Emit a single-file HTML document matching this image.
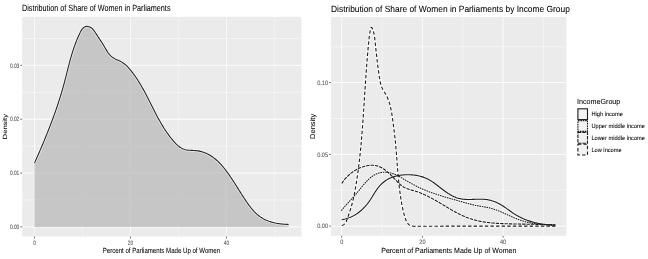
<!DOCTYPE html><html><head><meta charset="utf-8"><title>plot</title><style>html,body{margin:0;padding:0;background:#fff;overflow:hidden}svg{display:block}</style></head><body>
<svg width="648" height="259" viewBox="0 0 648 259" font-family="Liberation Sans, sans-serif" text-rendering="geometricPrecision">
<rect width="648" height="259" fill="#fff"/>
<defs><filter id="bl" filterUnits="userSpaceOnUse" x="0" y="0" width="648" height="259"><feGaussianBlur stdDeviation="0.55 0.35"/></filter><filter id="br" filterUnits="userSpaceOnUse" x="0" y="0" width="648" height="259"><feGaussianBlur stdDeviation="0.4 0.4"/></filter></defs>
<g filter="url(#bl)">
<rect x="22.2" y="16.8" width="279.30" height="219.70" fill="#EBEBEB"/>
<path d="M82.50,16.8V236.5M178.50,16.8V236.5M274.50,16.8V236.5" stroke="#fff" stroke-opacity="0.6" stroke-width="0.5" fill="none"/>
<path d="M22.2,199.97H301.5M22.2,146.12H301.5M22.2,92.28H301.5M22.2,38.42H301.5" stroke="#fff" stroke-opacity="0.9" stroke-width="0.5" fill="none"/>
<path d="M34.50,16.8V236.5M130.50,16.8V236.5M226.50,16.8V236.5" stroke="#fff" stroke-opacity="0.6" stroke-width="1.0" fill="none"/>
<path d="M22.2,226.90H301.5M22.2,173.05H301.5M22.2,119.20H301.5M22.2,65.35H301.5" stroke="#fff" stroke-opacity="0.9" stroke-width="1.0" fill="none"/>
<path d="M34.48,226.90 L34.48,163.14 L34.93,162.13 L35.38,161.11 L35.83,160.09 L36.28,159.07 L36.73,158.05 L37.18,157.03 L37.62,156.01 L38.07,154.99 L38.51,153.97 L38.95,152.95 L39.40,151.92 L39.84,150.90 L40.28,149.87 L40.72,148.85 L41.15,147.82 L41.59,146.80 L42.02,145.77 L42.46,144.74 L42.89,143.71 L43.32,142.68 L43.75,141.65 L44.18,140.62 L44.61,139.59 L45.03,138.55 L45.46,137.52 L45.88,136.49 L46.30,135.45 L46.72,134.42 L47.13,133.38 L47.55,132.34 L47.96,131.30 L48.38,130.27 L48.79,129.23 L49.19,128.19 L49.60,127.14 L50.00,126.10 L50.40,125.06 L50.80,124.02 L51.20,122.97 L51.60,121.93 L51.99,120.88 L52.38,119.84 L52.77,118.79 L53.16,117.74 L53.54,116.69 L53.92,115.64 L54.30,114.59 L54.68,113.54 L55.05,112.49 L55.42,111.43 L55.79,110.38 L56.16,109.33 L56.52,108.27 L56.88,107.21 L57.24,106.16 L57.60,105.10 L57.95,104.04 L58.30,102.98 L58.64,101.92 L58.99,100.86 L59.33,99.79 L59.67,98.73 L60.00,97.67 L60.33,96.60 L60.66,95.53 L60.98,94.47 L61.31,93.40 L61.62,92.33 L61.94,91.26 L62.25,90.19 L62.56,89.12 L62.86,88.05 L63.17,86.97 L63.46,85.90 L63.76,84.82 L64.05,83.75 L64.34,82.67 L64.62,81.59 L64.90,80.51 L65.18,79.43 L65.46,78.35 L65.74,77.27 L66.01,76.19 L66.28,75.11 L66.56,74.03 L66.83,72.95 L67.10,71.87 L67.38,70.79 L67.65,69.71 L67.93,68.63 L68.20,67.55 L68.48,66.47 L68.76,65.39 L69.04,64.31 L69.32,63.23 L69.61,62.16 L69.90,61.08 L70.20,60.00 L70.49,58.93 L70.80,57.85 L71.10,56.78 L71.41,55.71 L71.73,54.64 L72.05,53.57 L72.38,52.50 L72.71,51.44 L73.05,50.38 L73.40,49.31 L73.75,48.25 L74.12,47.19 L74.48,46.14 L74.86,45.08 L75.25,44.03 L75.64,42.98 L76.04,41.93 L76.46,40.89 L76.88,39.84 L77.31,38.80 L77.75,37.76 L78.20,36.73 L78.67,35.70 L79.14,34.67 L79.63,33.64 L80.13,32.62 L80.64,31.60 L81.18,30.60 L81.76,29.66 L82.40,28.79 L83.11,28.02 L83.92,27.37 L84.84,26.87 L85.85,26.54 L86.93,26.40 L88.03,26.47 L89.11,26.72 L90.16,27.15 L91.15,27.73 L92.06,28.44 L92.88,29.24 L93.62,30.12 L94.29,31.05 L94.94,32.01 L95.56,32.97 L96.19,33.92 L96.81,34.86 L97.43,35.80 L98.04,36.73 L98.65,37.66 L99.26,38.58 L99.86,39.50 L100.46,40.42 L101.06,41.34 L101.65,42.27 L102.24,43.20 L102.83,44.13 L103.42,45.07 L104.00,46.02 L104.58,46.98 L105.16,47.94 L105.74,48.92 L106.32,49.90 L106.91,50.88 L107.51,51.85 L108.14,52.79 L108.80,53.70 L109.49,54.58 L110.23,55.40 L111.01,56.16 L111.86,56.86 L112.75,57.50 L113.69,58.08 L114.66,58.63 L115.65,59.14 L116.67,59.63 L117.70,60.11 L118.73,60.59 L119.75,61.08 L120.76,61.58 L121.75,62.12 L122.70,62.69 L123.62,63.31 L124.51,63.98 L125.36,64.68 L126.18,65.42 L126.98,66.19 L127.75,66.98 L128.51,67.80 L129.25,68.63 L129.97,69.48 L130.68,70.33 L131.39,71.20 L132.08,72.07 L132.76,72.95 L133.43,73.84 L134.09,74.74 L134.74,75.64 L135.38,76.55 L136.02,77.47 L136.64,78.39 L137.25,79.32 L137.86,80.26 L138.46,81.20 L139.05,82.14 L139.64,83.09 L140.21,84.05 L140.78,85.01 L141.35,85.97 L141.90,86.94 L142.46,87.91 L143.00,88.88 L143.54,89.86 L144.08,90.84 L144.61,91.82 L145.14,92.81 L145.66,93.80 L146.18,94.79 L146.69,95.78 L147.21,96.77 L147.72,97.76 L148.23,98.76 L148.73,99.76 L149.24,100.75 L149.74,101.75 L150.25,102.75 L150.75,103.75 L151.25,104.75 L151.75,105.75 L152.25,106.75 L152.76,107.75 L153.26,108.75 L153.77,109.74 L154.27,110.74 L154.78,111.73 L155.29,112.72 L155.81,113.72 L156.32,114.70 L156.84,115.69 L157.37,116.68 L157.89,117.66 L158.42,118.64 L158.96,119.61 L159.50,120.59 L160.05,121.56 L160.60,122.53 L161.16,123.49 L161.72,124.45 L162.29,125.40 L162.87,126.35 L163.46,127.30 L164.05,128.24 L164.65,129.18 L165.26,130.11 L165.87,131.03 L166.50,131.95 L167.13,132.87 L167.78,133.78 L168.43,134.68 L169.10,135.58 L169.77,136.47 L170.46,137.35 L171.15,138.23 L171.86,139.09 L172.58,139.96 L173.31,140.81 L174.06,141.66 L174.81,142.49 L175.59,143.31 L176.38,144.11 L177.19,144.88 L178.01,145.61 L178.87,146.31 L179.74,146.97 L180.64,147.58 L181.56,148.14 L182.52,148.64 L183.50,149.07 L184.51,149.44 L185.56,149.73 L186.64,149.95 L187.75,150.12 L188.88,150.23 L190.02,150.31 L191.18,150.37 L192.34,150.41 L193.51,150.46 L194.67,150.52 L195.83,150.61 L196.97,150.73 L198.10,150.90 L199.22,151.10 L200.32,151.34 L201.41,151.62 L202.48,151.93 L203.54,152.27 L204.58,152.65 L205.61,153.07 L206.62,153.51 L207.62,153.98 L208.60,154.49 L209.56,155.02 L210.51,155.58 L211.44,156.17 L212.36,156.78 L213.26,157.42 L214.14,158.08 L215.00,158.77 L215.85,159.48 L216.69,160.21 L217.51,160.95 L218.31,161.72 L219.10,162.50 L219.88,163.30 L220.64,164.12 L221.40,164.95 L222.14,165.79 L222.87,166.64 L223.58,167.51 L224.29,168.38 L224.99,169.27 L225.67,170.16 L226.35,171.05 L227.02,171.96 L227.68,172.87 L228.33,173.78 L228.98,174.69 L229.61,175.61 L230.24,176.52 L230.87,177.44 L231.49,178.37 L232.10,179.29 L232.71,180.21 L233.32,181.14 L233.92,182.07 L234.52,183.00 L235.11,183.93 L235.70,184.86 L236.29,185.79 L236.88,186.73 L237.47,187.66 L238.06,188.60 L238.65,189.54 L239.24,190.48 L239.83,191.41 L240.42,192.36 L241.02,193.30 L241.61,194.24 L242.21,195.18 L242.82,196.12 L243.42,197.07 L244.04,198.01 L244.65,198.96 L245.27,199.90 L245.90,200.84 L246.54,201.78 L247.18,202.72 L247.83,203.64 L248.49,204.56 L249.16,205.48 L249.84,206.38 L250.54,207.27 L251.24,208.15 L251.96,209.01 L252.69,209.86 L253.43,210.69 L254.19,211.51 L254.96,212.30 L255.75,213.08 L256.56,213.83 L257.38,214.56 L258.22,215.27 L259.08,215.95 L259.96,216.60 L260.86,217.23 L261.79,217.82 L262.73,218.39 L263.69,218.92 L264.67,219.43 L265.68,219.90 L266.69,220.35 L267.73,220.77 L268.77,221.16 L269.83,221.52 L270.91,221.87 L271.99,222.18 L273.08,222.47 L274.18,222.74 L275.28,222.99 L276.39,223.21 L277.51,223.42 L278.63,223.60 L279.75,223.76 L280.86,223.91 L281.98,224.03 L283.10,224.14 L284.21,224.23 L285.31,224.31 L286.41,224.37 L287.51,224.42 L288.59,224.45 L288.59,226.90Z" fill="#b6b6b6" fill-opacity="0.7" stroke="none"/>
<path d="M34.48,163.14 L34.93,162.13 L35.38,161.11 L35.83,160.09 L36.28,159.07 L36.73,158.05 L37.18,157.03 L37.62,156.01 L38.07,154.99 L38.51,153.97 L38.95,152.95 L39.40,151.92 L39.84,150.90 L40.28,149.87 L40.72,148.85 L41.15,147.82 L41.59,146.80 L42.02,145.77 L42.46,144.74 L42.89,143.71 L43.32,142.68 L43.75,141.65 L44.18,140.62 L44.61,139.59 L45.03,138.55 L45.46,137.52 L45.88,136.49 L46.30,135.45 L46.72,134.42 L47.13,133.38 L47.55,132.34 L47.96,131.30 L48.38,130.27 L48.79,129.23 L49.19,128.19 L49.60,127.14 L50.00,126.10 L50.40,125.06 L50.80,124.02 L51.20,122.97 L51.60,121.93 L51.99,120.88 L52.38,119.84 L52.77,118.79 L53.16,117.74 L53.54,116.69 L53.92,115.64 L54.30,114.59 L54.68,113.54 L55.05,112.49 L55.42,111.43 L55.79,110.38 L56.16,109.33 L56.52,108.27 L56.88,107.21 L57.24,106.16 L57.60,105.10 L57.95,104.04 L58.30,102.98 L58.64,101.92 L58.99,100.86 L59.33,99.79 L59.67,98.73 L60.00,97.67 L60.33,96.60 L60.66,95.53 L60.98,94.47 L61.31,93.40 L61.62,92.33 L61.94,91.26 L62.25,90.19 L62.56,89.12 L62.86,88.05 L63.17,86.97 L63.46,85.90 L63.76,84.82 L64.05,83.75 L64.34,82.67 L64.62,81.59 L64.90,80.51 L65.18,79.43 L65.46,78.35 L65.74,77.27 L66.01,76.19 L66.28,75.11 L66.56,74.03 L66.83,72.95 L67.10,71.87 L67.38,70.79 L67.65,69.71 L67.93,68.63 L68.20,67.55 L68.48,66.47 L68.76,65.39 L69.04,64.31 L69.32,63.23 L69.61,62.16 L69.90,61.08 L70.20,60.00 L70.49,58.93 L70.80,57.85 L71.10,56.78 L71.41,55.71 L71.73,54.64 L72.05,53.57 L72.38,52.50 L72.71,51.44 L73.05,50.38 L73.40,49.31 L73.75,48.25 L74.12,47.19 L74.48,46.14 L74.86,45.08 L75.25,44.03 L75.64,42.98 L76.04,41.93 L76.46,40.89 L76.88,39.84 L77.31,38.80 L77.75,37.76 L78.20,36.73 L78.67,35.70 L79.14,34.67 L79.63,33.64 L80.13,32.62 L80.64,31.60 L81.18,30.60 L81.76,29.66 L82.40,28.79 L83.11,28.02 L83.92,27.37 L84.84,26.87 L85.85,26.54 L86.93,26.40 L88.03,26.47 L89.11,26.72 L90.16,27.15 L91.15,27.73 L92.06,28.44 L92.88,29.24 L93.62,30.12 L94.29,31.05 L94.94,32.01 L95.56,32.97 L96.19,33.92 L96.81,34.86 L97.43,35.80 L98.04,36.73 L98.65,37.66 L99.26,38.58 L99.86,39.50 L100.46,40.42 L101.06,41.34 L101.65,42.27 L102.24,43.20 L102.83,44.13 L103.42,45.07 L104.00,46.02 L104.58,46.98 L105.16,47.94 L105.74,48.92 L106.32,49.90 L106.91,50.88 L107.51,51.85 L108.14,52.79 L108.80,53.70 L109.49,54.58 L110.23,55.40 L111.01,56.16 L111.86,56.86 L112.75,57.50 L113.69,58.08 L114.66,58.63 L115.65,59.14 L116.67,59.63 L117.70,60.11 L118.73,60.59 L119.75,61.08 L120.76,61.58 L121.75,62.12 L122.70,62.69 L123.62,63.31 L124.51,63.98 L125.36,64.68 L126.18,65.42 L126.98,66.19 L127.75,66.98 L128.51,67.80 L129.25,68.63 L129.97,69.48 L130.68,70.33 L131.39,71.20 L132.08,72.07 L132.76,72.95 L133.43,73.84 L134.09,74.74 L134.74,75.64 L135.38,76.55 L136.02,77.47 L136.64,78.39 L137.25,79.32 L137.86,80.26 L138.46,81.20 L139.05,82.14 L139.64,83.09 L140.21,84.05 L140.78,85.01 L141.35,85.97 L141.90,86.94 L142.46,87.91 L143.00,88.88 L143.54,89.86 L144.08,90.84 L144.61,91.82 L145.14,92.81 L145.66,93.80 L146.18,94.79 L146.69,95.78 L147.21,96.77 L147.72,97.76 L148.23,98.76 L148.73,99.76 L149.24,100.75 L149.74,101.75 L150.25,102.75 L150.75,103.75 L151.25,104.75 L151.75,105.75 L152.25,106.75 L152.76,107.75 L153.26,108.75 L153.77,109.74 L154.27,110.74 L154.78,111.73 L155.29,112.72 L155.81,113.72 L156.32,114.70 L156.84,115.69 L157.37,116.68 L157.89,117.66 L158.42,118.64 L158.96,119.61 L159.50,120.59 L160.05,121.56 L160.60,122.53 L161.16,123.49 L161.72,124.45 L162.29,125.40 L162.87,126.35 L163.46,127.30 L164.05,128.24 L164.65,129.18 L165.26,130.11 L165.87,131.03 L166.50,131.95 L167.13,132.87 L167.78,133.78 L168.43,134.68 L169.10,135.58 L169.77,136.47 L170.46,137.35 L171.15,138.23 L171.86,139.09 L172.58,139.96 L173.31,140.81 L174.06,141.66 L174.81,142.49 L175.59,143.31 L176.38,144.11 L177.19,144.88 L178.01,145.61 L178.87,146.31 L179.74,146.97 L180.64,147.58 L181.56,148.14 L182.52,148.64 L183.50,149.07 L184.51,149.44 L185.56,149.73 L186.64,149.95 L187.75,150.12 L188.88,150.23 L190.02,150.31 L191.18,150.37 L192.34,150.41 L193.51,150.46 L194.67,150.52 L195.83,150.61 L196.97,150.73 L198.10,150.90 L199.22,151.10 L200.32,151.34 L201.41,151.62 L202.48,151.93 L203.54,152.27 L204.58,152.65 L205.61,153.07 L206.62,153.51 L207.62,153.98 L208.60,154.49 L209.56,155.02 L210.51,155.58 L211.44,156.17 L212.36,156.78 L213.26,157.42 L214.14,158.08 L215.00,158.77 L215.85,159.48 L216.69,160.21 L217.51,160.95 L218.31,161.72 L219.10,162.50 L219.88,163.30 L220.64,164.12 L221.40,164.95 L222.14,165.79 L222.87,166.64 L223.58,167.51 L224.29,168.38 L224.99,169.27 L225.67,170.16 L226.35,171.05 L227.02,171.96 L227.68,172.87 L228.33,173.78 L228.98,174.69 L229.61,175.61 L230.24,176.52 L230.87,177.44 L231.49,178.37 L232.10,179.29 L232.71,180.21 L233.32,181.14 L233.92,182.07 L234.52,183.00 L235.11,183.93 L235.70,184.86 L236.29,185.79 L236.88,186.73 L237.47,187.66 L238.06,188.60 L238.65,189.54 L239.24,190.48 L239.83,191.41 L240.42,192.36 L241.02,193.30 L241.61,194.24 L242.21,195.18 L242.82,196.12 L243.42,197.07 L244.04,198.01 L244.65,198.96 L245.27,199.90 L245.90,200.84 L246.54,201.78 L247.18,202.72 L247.83,203.64 L248.49,204.56 L249.16,205.48 L249.84,206.38 L250.54,207.27 L251.24,208.15 L251.96,209.01 L252.69,209.86 L253.43,210.69 L254.19,211.51 L254.96,212.30 L255.75,213.08 L256.56,213.83 L257.38,214.56 L258.22,215.27 L259.08,215.95 L259.96,216.60 L260.86,217.23 L261.79,217.82 L262.73,218.39 L263.69,218.92 L264.67,219.43 L265.68,219.90 L266.69,220.35 L267.73,220.77 L268.77,221.16 L269.83,221.52 L270.91,221.87 L271.99,222.18 L273.08,222.47 L274.18,222.74 L275.28,222.99 L276.39,223.21 L277.51,223.42 L278.63,223.60 L279.75,223.76 L280.86,223.91 L281.98,224.03 L283.10,224.14 L284.21,224.23 L285.31,224.31 L286.41,224.37 L287.51,224.42 L288.59,224.45" fill="none" stroke="#fff" stroke-opacity="0.7" stroke-width="2.6" stroke-linejoin="round"/>
<path d="M34.48,163.14 L34.93,162.13 L35.38,161.11 L35.83,160.09 L36.28,159.07 L36.73,158.05 L37.18,157.03 L37.62,156.01 L38.07,154.99 L38.51,153.97 L38.95,152.95 L39.40,151.92 L39.84,150.90 L40.28,149.87 L40.72,148.85 L41.15,147.82 L41.59,146.80 L42.02,145.77 L42.46,144.74 L42.89,143.71 L43.32,142.68 L43.75,141.65 L44.18,140.62 L44.61,139.59 L45.03,138.55 L45.46,137.52 L45.88,136.49 L46.30,135.45 L46.72,134.42 L47.13,133.38 L47.55,132.34 L47.96,131.30 L48.38,130.27 L48.79,129.23 L49.19,128.19 L49.60,127.14 L50.00,126.10 L50.40,125.06 L50.80,124.02 L51.20,122.97 L51.60,121.93 L51.99,120.88 L52.38,119.84 L52.77,118.79 L53.16,117.74 L53.54,116.69 L53.92,115.64 L54.30,114.59 L54.68,113.54 L55.05,112.49 L55.42,111.43 L55.79,110.38 L56.16,109.33 L56.52,108.27 L56.88,107.21 L57.24,106.16 L57.60,105.10 L57.95,104.04 L58.30,102.98 L58.64,101.92 L58.99,100.86 L59.33,99.79 L59.67,98.73 L60.00,97.67 L60.33,96.60 L60.66,95.53 L60.98,94.47 L61.31,93.40 L61.62,92.33 L61.94,91.26 L62.25,90.19 L62.56,89.12 L62.86,88.05 L63.17,86.97 L63.46,85.90 L63.76,84.82 L64.05,83.75 L64.34,82.67 L64.62,81.59 L64.90,80.51 L65.18,79.43 L65.46,78.35 L65.74,77.27 L66.01,76.19 L66.28,75.11 L66.56,74.03 L66.83,72.95 L67.10,71.87 L67.38,70.79 L67.65,69.71 L67.93,68.63 L68.20,67.55 L68.48,66.47 L68.76,65.39 L69.04,64.31 L69.32,63.23 L69.61,62.16 L69.90,61.08 L70.20,60.00 L70.49,58.93 L70.80,57.85 L71.10,56.78 L71.41,55.71 L71.73,54.64 L72.05,53.57 L72.38,52.50 L72.71,51.44 L73.05,50.38 L73.40,49.31 L73.75,48.25 L74.12,47.19 L74.48,46.14 L74.86,45.08 L75.25,44.03 L75.64,42.98 L76.04,41.93 L76.46,40.89 L76.88,39.84 L77.31,38.80 L77.75,37.76 L78.20,36.73 L78.67,35.70 L79.14,34.67 L79.63,33.64 L80.13,32.62 L80.64,31.60 L81.18,30.60 L81.76,29.66 L82.40,28.79 L83.11,28.02 L83.92,27.37 L84.84,26.87 L85.85,26.54 L86.93,26.40 L88.03,26.47 L89.11,26.72 L90.16,27.15 L91.15,27.73 L92.06,28.44 L92.88,29.24 L93.62,30.12 L94.29,31.05 L94.94,32.01 L95.56,32.97 L96.19,33.92 L96.81,34.86 L97.43,35.80 L98.04,36.73 L98.65,37.66 L99.26,38.58 L99.86,39.50 L100.46,40.42 L101.06,41.34 L101.65,42.27 L102.24,43.20 L102.83,44.13 L103.42,45.07 L104.00,46.02 L104.58,46.98 L105.16,47.94 L105.74,48.92 L106.32,49.90 L106.91,50.88 L107.51,51.85 L108.14,52.79 L108.80,53.70 L109.49,54.58 L110.23,55.40 L111.01,56.16 L111.86,56.86 L112.75,57.50 L113.69,58.08 L114.66,58.63 L115.65,59.14 L116.67,59.63 L117.70,60.11 L118.73,60.59 L119.75,61.08 L120.76,61.58 L121.75,62.12 L122.70,62.69 L123.62,63.31 L124.51,63.98 L125.36,64.68 L126.18,65.42 L126.98,66.19 L127.75,66.98 L128.51,67.80 L129.25,68.63 L129.97,69.48 L130.68,70.33 L131.39,71.20 L132.08,72.07 L132.76,72.95 L133.43,73.84 L134.09,74.74 L134.74,75.64 L135.38,76.55 L136.02,77.47 L136.64,78.39 L137.25,79.32 L137.86,80.26 L138.46,81.20 L139.05,82.14 L139.64,83.09 L140.21,84.05 L140.78,85.01 L141.35,85.97 L141.90,86.94 L142.46,87.91 L143.00,88.88 L143.54,89.86 L144.08,90.84 L144.61,91.82 L145.14,92.81 L145.66,93.80 L146.18,94.79 L146.69,95.78 L147.21,96.77 L147.72,97.76 L148.23,98.76 L148.73,99.76 L149.24,100.75 L149.74,101.75 L150.25,102.75 L150.75,103.75 L151.25,104.75 L151.75,105.75 L152.25,106.75 L152.76,107.75 L153.26,108.75 L153.77,109.74 L154.27,110.74 L154.78,111.73 L155.29,112.72 L155.81,113.72 L156.32,114.70 L156.84,115.69 L157.37,116.68 L157.89,117.66 L158.42,118.64 L158.96,119.61 L159.50,120.59 L160.05,121.56 L160.60,122.53 L161.16,123.49 L161.72,124.45 L162.29,125.40 L162.87,126.35 L163.46,127.30 L164.05,128.24 L164.65,129.18 L165.26,130.11 L165.87,131.03 L166.50,131.95 L167.13,132.87 L167.78,133.78 L168.43,134.68 L169.10,135.58 L169.77,136.47 L170.46,137.35 L171.15,138.23 L171.86,139.09 L172.58,139.96 L173.31,140.81 L174.06,141.66 L174.81,142.49 L175.59,143.31 L176.38,144.11 L177.19,144.88 L178.01,145.61 L178.87,146.31 L179.74,146.97 L180.64,147.58 L181.56,148.14 L182.52,148.64 L183.50,149.07 L184.51,149.44 L185.56,149.73 L186.64,149.95 L187.75,150.12 L188.88,150.23 L190.02,150.31 L191.18,150.37 L192.34,150.41 L193.51,150.46 L194.67,150.52 L195.83,150.61 L196.97,150.73 L198.10,150.90 L199.22,151.10 L200.32,151.34 L201.41,151.62 L202.48,151.93 L203.54,152.27 L204.58,152.65 L205.61,153.07 L206.62,153.51 L207.62,153.98 L208.60,154.49 L209.56,155.02 L210.51,155.58 L211.44,156.17 L212.36,156.78 L213.26,157.42 L214.14,158.08 L215.00,158.77 L215.85,159.48 L216.69,160.21 L217.51,160.95 L218.31,161.72 L219.10,162.50 L219.88,163.30 L220.64,164.12 L221.40,164.95 L222.14,165.79 L222.87,166.64 L223.58,167.51 L224.29,168.38 L224.99,169.27 L225.67,170.16 L226.35,171.05 L227.02,171.96 L227.68,172.87 L228.33,173.78 L228.98,174.69 L229.61,175.61 L230.24,176.52 L230.87,177.44 L231.49,178.37 L232.10,179.29 L232.71,180.21 L233.32,181.14 L233.92,182.07 L234.52,183.00 L235.11,183.93 L235.70,184.86 L236.29,185.79 L236.88,186.73 L237.47,187.66 L238.06,188.60 L238.65,189.54 L239.24,190.48 L239.83,191.41 L240.42,192.36 L241.02,193.30 L241.61,194.24 L242.21,195.18 L242.82,196.12 L243.42,197.07 L244.04,198.01 L244.65,198.96 L245.27,199.90 L245.90,200.84 L246.54,201.78 L247.18,202.72 L247.83,203.64 L248.49,204.56 L249.16,205.48 L249.84,206.38 L250.54,207.27 L251.24,208.15 L251.96,209.01 L252.69,209.86 L253.43,210.69 L254.19,211.51 L254.96,212.30 L255.75,213.08 L256.56,213.83 L257.38,214.56 L258.22,215.27 L259.08,215.95 L259.96,216.60 L260.86,217.23 L261.79,217.82 L262.73,218.39 L263.69,218.92 L264.67,219.43 L265.68,219.90 L266.69,220.35 L267.73,220.77 L268.77,221.16 L269.83,221.52 L270.91,221.87 L271.99,222.18 L273.08,222.47 L274.18,222.74 L275.28,222.99 L276.39,223.21 L277.51,223.42 L278.63,223.60 L279.75,223.76 L280.86,223.91 L281.98,224.03 L283.10,224.14 L284.21,224.23 L285.31,224.31 L286.41,224.37 L287.51,224.42 L288.59,224.45" fill="none" stroke="#262626" stroke-width="1.1" stroke-linejoin="round"/>
<path d="M20.30,226.90H22.2M20.30,173.05H22.2M20.30,119.20H22.2M20.30,65.35H22.2M34.50,236.5V238.40M130.50,236.5V238.40M226.50,236.5V238.40" stroke="#444" stroke-width="0.75" fill="none"/>
<text transform="translate(19.30,229.10) scale(0.7425,1)" font-size="6.51996" fill="#5a5a5a" text-anchor="end" stroke="#5a5a5a" stroke-width="0.1">0.00</text>
<text transform="translate(19.30,175.25) scale(0.7425,1)" font-size="6.51996" fill="#5a5a5a" text-anchor="end" stroke="#5a5a5a" stroke-width="0.1">0.01</text>
<text transform="translate(19.30,121.40) scale(0.7425,1)" font-size="6.51996" fill="#5a5a5a" text-anchor="end" stroke="#5a5a5a" stroke-width="0.1">0.02</text>
<text transform="translate(19.30,67.55) scale(0.7425,1)" font-size="6.51996" fill="#5a5a5a" text-anchor="end" stroke="#5a5a5a" stroke-width="0.1">0.03</text>
<text transform="translate(34.50,244.50) scale(0.7425,1)" font-size="6.51996" fill="#5a5a5a" text-anchor="middle" stroke="#5a5a5a" stroke-width="0.1">0</text>
<text transform="translate(130.50,244.50) scale(0.7425,1)" font-size="6.51996" fill="#5a5a5a" text-anchor="middle" stroke="#5a5a5a" stroke-width="0.1">20</text>
<text transform="translate(226.50,244.50) scale(0.7425,1)" font-size="6.51996" fill="#5a5a5a" text-anchor="middle" stroke="#5a5a5a" stroke-width="0.1">40</text>
<text transform="translate(161.45,252.60) scale(0.8088,1)" font-size="7.546" fill="#000" text-anchor="middle" stroke="#000" stroke-width="0.06">Percent of Parliaments Made Up of Women</text>
<text transform="translate(6.80,126.65) scale(0.8019,1) rotate(-90)" font-size="7.546" fill="#000" text-anchor="middle" stroke="#000" stroke-width="0.06">Density</text>
<text transform="translate(22.00,11.00) scale(0.8011,1)" font-size="9.055" fill="#000" stroke="#000" stroke-width="0.06">Distribution of Share of Women in Parliaments</text>
</g>
<g filter="url(#br)">
<rect x="331.0" y="17.0" width="235.50" height="218.80" fill="#EBEBEB"/>
<path d="M382.05,17.0V235.8M462.75,17.0V235.8M543.45,17.0V235.8" stroke="#fff" stroke-opacity="0.85" stroke-width="0.5" fill="none"/>
<path d="M331.0,190.22H566.5M331.0,118.47H566.5M331.0,46.72H566.5" stroke="#fff" stroke-opacity="0.9" stroke-width="0.5" fill="none"/>
<path d="M341.70,17.0V235.8M422.40,17.0V235.8M503.10,17.0V235.8" stroke="#fff" stroke-opacity="0.85" stroke-width="1.0" fill="none"/>
<path d="M331.0,226.10H566.5M331.0,154.35H566.5M331.0,82.60H566.5" stroke="#fff" stroke-opacity="0.9" stroke-width="1.0" fill="none"/>
<path d="M341.62,219.67 L342.48,219.53 L343.34,219.37 L344.18,219.19 L345.01,219.00 L345.83,218.79 L346.64,218.56 L347.44,218.31 L348.23,218.05 L349.01,217.77 L349.78,217.47 L350.54,217.16 L351.29,216.83 L352.03,216.49 L352.76,216.13 L353.48,215.76 L354.19,215.37 L354.89,214.97 L355.58,214.55 L356.26,214.13 L356.93,213.68 L357.59,213.23 L358.24,212.76 L358.88,212.28 L359.52,211.78 L360.14,211.28 L360.76,210.76 L361.36,210.23 L361.96,209.69 L362.55,209.14 L363.13,208.58 L363.70,208.01 L364.26,207.43 L364.81,206.84 L365.35,206.23 L365.89,205.62 L366.42,205.00 L366.93,204.38 L367.45,203.74 L367.95,203.09 L368.44,202.44 L368.93,201.78 L369.40,201.11 L369.87,200.44 L370.34,199.76 L370.79,199.07 L371.24,198.38 L371.68,197.68 L372.12,196.98 L372.55,196.27 L372.98,195.57 L373.41,194.86 L373.84,194.16 L374.27,193.45 L374.70,192.75 L375.14,192.05 L375.58,191.36 L376.03,190.68 L376.49,190.00 L376.95,189.33 L377.43,188.66 L377.91,188.01 L378.41,187.37 L378.92,186.74 L379.45,186.13 L379.98,185.53 L380.53,184.94 L381.10,184.36 L381.67,183.80 L382.26,183.26 L382.86,182.73 L383.48,182.22 L384.10,181.72 L384.74,181.24 L385.39,180.77 L386.05,180.33 L386.73,179.90 L387.42,179.49 L388.12,179.10 L388.83,178.73 L389.55,178.37 L390.28,178.04 L391.03,177.72 L391.78,177.42 L392.54,177.14 L393.31,176.87 L394.09,176.62 L394.87,176.39 L395.66,176.17 L396.46,175.97 L397.27,175.79 L398.08,175.62 L398.89,175.47 L399.71,175.33 L400.53,175.21 L401.36,175.10 L402.19,175.01 L403.02,174.93 L403.85,174.86 L404.68,174.81 L405.52,174.77 L406.35,174.74 L407.18,174.73 L408.02,174.73 L408.85,174.74 L409.68,174.76 L410.50,174.79 L411.33,174.84 L412.15,174.90 L412.96,174.97 L413.78,175.05 L414.59,175.15 L415.40,175.26 L416.20,175.38 L417.00,175.52 L417.79,175.67 L418.58,175.83 L419.36,176.01 L420.14,176.21 L420.92,176.41 L421.69,176.64 L422.45,176.87 L423.21,177.13 L423.96,177.40 L424.70,177.68 L425.44,177.98 L426.17,178.30 L426.89,178.64 L427.61,178.99 L428.32,179.35 L429.02,179.74 L429.71,180.13 L430.40,180.55 L431.09,180.97 L431.77,181.41 L432.44,181.85 L433.12,182.31 L433.78,182.78 L434.45,183.25 L435.11,183.74 L435.77,184.23 L436.43,184.72 L437.08,185.22 L437.74,185.73 L438.39,186.24 L439.05,186.75 L439.70,187.26 L440.36,187.77 L441.02,188.28 L441.68,188.79 L442.34,189.30 L443.00,189.80 L443.67,190.31 L444.34,190.80 L445.02,191.29 L445.70,191.78 L446.38,192.25 L447.07,192.72 L447.76,193.18 L448.46,193.63 L449.16,194.07 L449.87,194.50 L450.58,194.91 L451.30,195.31 L452.02,195.70 L452.75,196.07 L453.48,196.42 L454.21,196.76 L454.96,197.08 L455.70,197.38 L456.46,197.67 L457.21,197.93 L457.98,198.17 L458.75,198.39 L459.52,198.58 L460.30,198.76 L461.09,198.91 L461.88,199.04 L462.68,199.15 L463.48,199.24 L464.28,199.31 L465.09,199.37 L465.90,199.42 L466.72,199.45 L467.54,199.47 L468.36,199.48 L469.18,199.48 L470.00,199.47 L470.83,199.46 L471.66,199.44 L472.49,199.41 L473.32,199.39 L474.15,199.36 L474.97,199.32 L475.80,199.29 L476.63,199.27 L477.46,199.24 L478.29,199.22 L479.11,199.21 L479.93,199.20 L480.75,199.20 L481.57,199.21 L482.39,199.23 L483.20,199.26 L484.01,199.30 L484.81,199.36 L485.61,199.44 L486.41,199.53 L487.20,199.64 L487.98,199.77 L488.77,199.92 L489.54,200.09 L490.31,200.27 L491.08,200.47 L491.84,200.69 L492.60,200.93 L493.35,201.18 L494.10,201.45 L494.84,201.74 L495.57,202.04 L496.31,202.36 L497.03,202.69 L497.75,203.03 L498.47,203.39 L499.18,203.77 L499.89,204.16 L500.59,204.56 L501.29,204.97 L501.98,205.40 L502.67,205.83 L503.36,206.28 L504.04,206.73 L504.72,207.20 L505.40,207.67 L506.07,208.14 L506.75,208.62 L507.42,209.10 L508.09,209.59 L508.77,210.07 L509.44,210.56 L510.12,211.04 L510.79,211.52 L511.47,212.00 L512.15,212.47 L512.83,212.94 L513.52,213.40 L514.21,213.85 L514.91,214.29 L515.61,214.72 L516.31,215.14 L517.02,215.56 L517.73,215.96 L518.45,216.35 L519.17,216.74 L519.90,217.11 L520.63,217.48 L521.36,217.83 L522.10,218.18 L522.84,218.52 L523.58,218.84 L524.33,219.16 L525.08,219.47 L525.83,219.77 L526.59,220.06 L527.35,220.35 L528.12,220.62 L528.89,220.88 L529.66,221.14 L530.43,221.39 L531.21,221.63 L531.99,221.86 L532.77,222.08 L533.55,222.29 L534.34,222.49 L535.13,222.69 L535.92,222.87 L536.72,223.05 L537.51,223.22 L538.31,223.39 L539.11,223.54 L539.91,223.68 L540.72,223.82 L541.52,223.95 L542.33,224.07 L543.14,224.19 L543.95,224.29 L544.77,224.39 L545.58,224.48 L546.40,224.56 L547.21,224.64 L548.03,224.70 L548.85,224.76 L549.67,224.81 L550.49,224.86 L551.31,224.90 L552.13,224.93 L552.96,224.95 L553.78,224.96 L554.60,224.97 L555.43,224.97M341.39,210.61 L341.92,209.93 L342.46,209.26 L342.99,208.61 L343.52,207.97 L344.05,207.33 L344.58,206.71 L345.11,206.09 L345.64,205.49 L346.17,204.89 L346.70,204.29 L347.23,203.71 L347.75,203.12 L348.28,202.55 L348.81,201.97 L349.33,201.40 L349.86,200.83 L350.38,200.26 L350.91,199.69 L351.43,199.12 L351.96,198.55 L352.48,197.98 L353.00,197.40 L353.52,196.82 L354.05,196.24 L354.57,195.65 L355.09,195.05 L355.61,194.45 L356.13,193.84 L356.65,193.23 L357.18,192.60 L357.70,191.97 L358.22,191.33 L358.74,190.69 L359.26,190.04 L359.79,189.39 L360.32,188.74 L360.85,188.08 L361.38,187.43 L361.91,186.77 L362.45,186.12 L362.99,185.47 L363.53,184.83 L364.08,184.19 L364.63,183.56 L365.18,182.93 L365.74,182.31 L366.31,181.70 L366.88,181.10 L367.45,180.51 L368.03,179.94 L368.62,179.37 L369.21,178.82 L369.81,178.29 L370.42,177.77 L371.03,177.27 L371.66,176.79 L372.28,176.32 L372.92,175.88 L373.57,175.46 L374.22,175.06 L374.89,174.68 L375.56,174.33 L376.24,174.00 L376.93,173.70 L377.64,173.43 L378.35,173.19 L379.07,172.97 L379.81,172.78 L380.55,172.63 L381.30,172.50 L382.06,172.40 L382.83,172.32 L383.60,172.28 L384.37,172.26 L385.15,172.26 L385.94,172.29 L386.72,172.35 L387.51,172.43 L388.30,172.53 L389.09,172.66 L389.87,172.81 L390.66,172.98 L391.44,173.18 L392.22,173.40 L392.99,173.64 L393.76,173.90 L394.53,174.18 L395.28,174.47 L396.03,174.79 L396.77,175.13 L397.50,175.49 L398.22,175.86 L398.93,176.25 L399.64,176.64 L400.34,177.05 L401.04,177.47 L401.74,177.89 L402.43,178.31 L403.12,178.74 L403.81,179.17 L404.50,179.59 L405.20,180.01 L405.89,180.42 L406.59,180.84 L407.28,181.24 L407.98,181.65 L408.68,182.05 L409.39,182.45 L410.09,182.84 L410.79,183.23 L411.50,183.61 L412.21,183.99 L412.92,184.37 L413.63,184.74 L414.34,185.11 L415.05,185.48 L415.77,185.84 L416.48,186.19 L417.20,186.55 L417.92,186.90 L418.64,187.24 L419.37,187.58 L420.09,187.92 L420.82,188.25 L421.55,188.58 L422.28,188.91 L423.01,189.23 L423.74,189.55 L424.48,189.86 L425.22,190.17 L425.95,190.47 L426.70,190.77 L427.44,191.07 L428.18,191.36 L428.93,191.65 L429.68,191.93 L430.43,192.22 L431.18,192.49 L431.93,192.77 L432.68,193.04 L433.44,193.30 L434.20,193.57 L434.96,193.83 L435.72,194.08 L436.48,194.34 L437.24,194.59 L438.00,194.84 L438.77,195.09 L439.53,195.33 L440.30,195.57 L441.06,195.81 L441.83,196.05 L442.60,196.28 L443.37,196.52 L444.14,196.75 L444.91,196.98 L445.68,197.21 L446.45,197.44 L447.23,197.66 L448.00,197.89 L448.77,198.11 L449.54,198.33 L450.32,198.55 L451.09,198.77 L451.87,198.99 L452.64,199.21 L453.41,199.43 L454.19,199.65 L454.96,199.87 L455.73,200.09 L456.51,200.30 L457.28,200.52 L458.05,200.74 L458.82,200.96 L459.59,201.18 L460.37,201.40 L461.14,201.62 L461.91,201.84 L462.68,202.06 L463.45,202.27 L464.22,202.49 L464.99,202.71 L465.76,202.92 L466.53,203.13 L467.30,203.34 L468.08,203.55 L468.85,203.75 L469.62,203.95 L470.40,204.15 L471.18,204.35 L471.95,204.54 L472.73,204.72 L473.51,204.90 L474.30,205.08 L475.08,205.25 L475.86,205.42 L476.65,205.58 L477.44,205.73 L478.23,205.88 L479.03,206.02 L479.82,206.16 L480.62,206.29 L481.41,206.42 L482.21,206.55 L483.01,206.69 L483.80,206.82 L484.60,206.95 L485.39,207.09 L486.19,207.24 L486.98,207.39 L487.76,207.55 L488.55,207.72 L489.33,207.89 L490.11,208.08 L490.89,208.28 L491.66,208.49 L492.42,208.72 L493.19,208.95 L493.95,209.19 L494.71,209.45 L495.46,209.71 L496.21,209.98 L496.96,210.26 L497.71,210.55 L498.45,210.84 L499.20,211.14 L499.94,211.44 L500.68,211.76 L501.41,212.07 L502.15,212.39 L502.88,212.72 L503.62,213.04 L504.35,213.37 L505.08,213.71 L505.81,214.04 L506.54,214.37 L507.27,214.71 L508.00,215.05 L508.73,215.38 L509.47,215.72 L510.20,216.05 L510.93,216.38 L511.66,216.71 L512.40,217.04 L513.13,217.36 L513.87,217.68 L514.60,218.00 L515.34,218.30 L516.08,218.61 L516.83,218.91 L517.57,219.20 L518.32,219.48 L519.07,219.76 L519.82,220.03 L520.57,220.29 L521.33,220.54 L522.09,220.78 L522.85,221.01 L523.62,221.24 L524.39,221.45 L525.16,221.66 L525.93,221.86 L526.71,222.06 L527.48,222.24 L528.26,222.42 L529.04,222.59 L529.83,222.75 L530.61,222.91 L531.40,223.06 L532.19,223.20 L532.98,223.34 L533.77,223.47 L534.56,223.59 L535.35,223.70 L536.15,223.81 L536.95,223.92 L537.74,224.02 L538.54,224.11 L539.34,224.20 L540.14,224.28 L540.94,224.35 L541.75,224.42 L542.55,224.49 L543.35,224.55 L544.15,224.60 L544.96,224.66 L545.76,224.70 L546.57,224.74 L547.37,224.78 L548.18,224.82 L548.98,224.84 L549.79,224.87 L550.59,224.89 L551.40,224.91 L552.20,224.93 L553.00,224.94 L553.81,224.95 L554.61,224.95 L555.41,224.95M341.91,183.45 L342.27,182.83 L342.65,182.22 L343.04,181.61 L343.46,181.00 L343.90,180.40 L344.35,179.80 L344.82,179.21 L345.31,178.63 L345.82,178.04 L346.35,177.47 L346.89,176.90 L347.44,176.34 L348.01,175.79 L348.60,175.25 L349.19,174.71 L349.80,174.19 L350.43,173.67 L351.07,173.17 L351.71,172.68 L352.37,172.20 L353.04,171.73 L353.72,171.27 L354.41,170.82 L355.11,170.39 L355.82,169.97 L356.53,169.57 L357.26,169.18 L357.99,168.81 L358.72,168.45 L359.46,168.11 L360.21,167.79 L360.96,167.48 L361.72,167.19 L362.48,166.92 L363.24,166.67 L364.00,166.43 L364.77,166.22 L365.54,166.03 L366.31,165.86 L367.08,165.70 L367.85,165.57 L368.62,165.47 L369.39,165.38 L370.16,165.32 L370.92,165.28 L371.68,165.27 L372.44,165.28 L373.20,165.31 L373.95,165.38 L374.69,165.46 L375.43,165.58 L376.17,165.72 L376.90,165.89 L377.62,166.08 L378.33,166.31 L379.04,166.56 L379.73,166.84 L380.42,167.15 L381.11,167.48 L381.78,167.84 L382.45,168.22 L383.11,168.62 L383.76,169.05 L384.41,169.49 L385.05,169.95 L385.69,170.43 L386.32,170.92 L386.94,171.43 L387.56,171.96 L388.17,172.49 L388.77,173.04 L389.37,173.60 L389.97,174.16 L390.56,174.74 L391.14,175.32 L391.73,175.90 L392.30,176.49 L392.87,177.09 L393.44,177.68 L394.01,178.28 L394.57,178.87 L395.12,179.47 L395.68,180.06 L396.23,180.65 L396.79,181.23 L397.34,181.80 L397.90,182.36 L398.47,182.92 L399.03,183.46 L399.61,183.99 L400.19,184.50 L400.78,184.99 L401.38,185.47 L401.99,185.93 L402.62,186.36 L403.25,186.78 L403.90,187.17 L404.57,187.53 L405.25,187.87 L405.95,188.18 L406.66,188.48 L407.38,188.75 L408.11,189.01 L408.86,189.26 L409.60,189.49 L410.36,189.72 L411.12,189.94 L411.88,190.16 L412.65,190.37 L413.41,190.59 L414.18,190.81 L414.94,191.03 L415.70,191.27 L416.45,191.51 L417.21,191.76 L417.95,192.03 L418.70,192.29 L419.44,192.57 L420.18,192.85 L420.92,193.14 L421.65,193.44 L422.38,193.75 L423.10,194.06 L423.83,194.38 L424.55,194.70 L425.27,195.03 L425.98,195.37 L426.69,195.71 L427.41,196.06 L428.11,196.41 L428.82,196.77 L429.52,197.13 L430.23,197.49 L430.93,197.87 L431.63,198.24 L432.32,198.62 L433.02,199.00 L433.71,199.39 L434.40,199.78 L435.09,200.17 L435.78,200.56 L436.47,200.96 L437.16,201.36 L437.85,201.76 L438.53,202.16 L439.22,202.57 L439.90,202.97 L440.58,203.38 L441.27,203.79 L441.95,204.19 L442.63,204.60 L443.31,205.01 L443.99,205.42 L444.67,205.83 L445.35,206.24 L446.03,206.65 L446.72,207.06 L447.40,207.46 L448.08,207.87 L448.76,208.27 L449.44,208.67 L450.13,209.07 L450.81,209.47 L451.49,209.87 L452.18,210.26 L452.87,210.65 L453.55,211.04 L454.24,211.42 L454.93,211.80 L455.62,212.18 L456.32,212.55 L457.01,212.92 L457.70,213.28 L458.40,213.64 L459.10,214.00 L459.80,214.35 L460.50,214.69 L461.21,215.03 L461.91,215.36 L462.62,215.69 L463.33,216.01 L464.05,216.32 L464.76,216.63 L465.48,216.93 L466.20,217.23 L466.93,217.51 L467.65,217.79 L468.38,218.07 L469.12,218.33 L469.85,218.59 L470.59,218.83 L471.33,219.07 L472.08,219.30 L472.82,219.53 L473.58,219.74 L474.33,219.95 L475.08,220.15 L475.84,220.34 L476.60,220.53 L477.37,220.70 L478.13,220.88 L478.90,221.04 L479.67,221.20 L480.45,221.35 L481.22,221.49 L482.00,221.63 L482.78,221.77 L483.56,221.89 L484.34,222.02 L485.12,222.13 L485.90,222.24 L486.69,222.35 L487.48,222.45 L488.27,222.55 L489.06,222.64 L489.85,222.72 L490.64,222.81 L491.43,222.88 L492.22,222.96 L493.02,223.03 L493.81,223.09 L494.61,223.16 L495.40,223.22 L496.20,223.27 L497.00,223.33 L497.79,223.38 L498.59,223.42 L499.39,223.47 L500.18,223.51 L500.98,223.55 L501.77,223.59 L502.57,223.62 L503.36,223.65 L504.16,223.69 L504.95,223.72 L505.75,223.74 L506.54,223.77 L507.33,223.80 L508.12,223.82 L508.91,223.85 L509.70,223.87 L510.49,223.89 L511.28,223.91 L512.07,223.93 L512.86,223.95 L513.65,223.97 L514.43,223.98 L515.22,224.00 L516.01,224.01 L516.79,224.03 L517.58,224.04 L518.36,224.06 L519.15,224.07 L519.93,224.08 L520.72,224.09 L521.50,224.11 L522.29,224.12 L523.07,224.13 L523.86,224.14 L524.64,224.15 L525.42,224.16 L526.21,224.17 L526.99,224.18 L527.78,224.19 L528.56,224.21 L529.34,224.22 L530.13,224.23 L530.91,224.24 L531.70,224.25 L532.48,224.27 L533.27,224.28 L534.05,224.29 L534.84,224.31 L535.62,224.32 L536.41,224.34 L537.19,224.35 L537.98,224.37 L538.77,224.39 L539.55,224.41 L540.34,224.43 L541.13,224.45 L541.92,224.47 L542.71,224.49 L543.50,224.52 L544.29,224.54 L545.08,224.57 L545.87,224.60 L546.66,224.63 L547.45,224.66 L548.25,224.69 L549.04,224.72 L549.83,224.76 L550.63,224.80 L551.43,224.83 L552.22,224.87 L553.02,224.92 L553.82,224.96 L554.62,225.01 L555.42,225.05M341.80,225.41 L342.45,225.22 L343.03,224.98 L343.56,224.69 L344.05,224.36 L344.49,223.98 L344.88,223.57 L345.25,223.13 L345.57,222.65 L345.87,222.15 L346.14,221.63 L346.40,221.09 L346.63,220.53 L346.85,219.96 L347.06,219.39 L347.27,218.81 L347.47,218.24 L347.67,217.66 L347.87,217.09 L348.07,216.51 L348.27,215.94 L348.47,215.37 L348.67,214.80 L348.87,214.23 L349.06,213.67 L349.25,213.10 L349.44,212.53 L349.63,211.96 L349.82,211.40 L350.01,210.83 L350.19,210.27 L350.37,209.70 L350.55,209.13 L350.73,208.56 L350.91,208.00 L351.08,207.43 L351.25,206.86 L351.42,206.29 L351.58,205.72 L351.74,205.15 L351.90,204.58 L352.06,204.00 L352.21,203.43 L352.36,202.85 L352.51,202.28 L352.65,201.70 L352.80,201.12 L352.94,200.54 L353.07,199.96 L353.21,199.38 L353.34,198.80 L353.47,198.22 L353.60,197.63 L353.73,197.05 L353.85,196.47 L353.97,195.88 L354.09,195.30 L354.21,194.71 L354.33,194.12 L354.44,193.54 L354.56,192.95 L354.67,192.36 L354.78,191.77 L354.89,191.18 L355.00,190.60 L355.11,190.01 L355.21,189.42 L355.32,188.83 L355.42,188.24 L355.52,187.65 L355.62,187.06 L355.73,186.47 L355.83,185.88 L355.93,185.29 L356.02,184.70 L356.12,184.11 L356.22,183.52 L356.31,182.93 L356.41,182.34 L356.50,181.75 L356.60,181.16 L356.69,180.57 L356.78,179.98 L356.87,179.39 L356.96,178.80 L357.05,178.20 L357.14,177.61 L357.23,177.02 L357.32,176.43 L357.40,175.84 L357.49,175.25 L357.57,174.66 L357.66,174.07 L357.74,173.48 L357.82,172.88 L357.91,172.29 L357.99,171.70 L358.07,171.11 L358.15,170.52 L358.23,169.93 L358.31,169.33 L358.38,168.74 L358.46,168.15 L358.54,167.56 L358.61,166.96 L358.69,166.37 L358.76,165.78 L358.84,165.19 L358.91,164.60 L358.98,164.00 L359.05,163.41 L359.12,162.82 L359.20,162.23 L359.27,161.63 L359.33,161.04 L359.40,160.45 L359.47,159.85 L359.54,159.26 L359.61,158.67 L359.67,158.07 L359.74,157.48 L359.80,156.89 L359.87,156.29 L359.93,155.70 L360.00,155.11 L360.06,154.51 L360.12,153.92 L360.18,153.33 L360.24,152.73 L360.31,152.14 L360.37,151.55 L360.43,150.95 L360.49,150.36 L360.54,149.76 L360.60,149.17 L360.66,148.58 L360.72,147.98 L360.77,147.39 L360.83,146.79 L360.89,146.20 L360.94,145.61 L361.00,145.01 L361.05,144.42 L361.11,143.82 L361.16,143.23 L361.21,142.63 L361.27,142.04 L361.32,141.44 L361.37,140.85 L361.42,140.26 L361.48,139.66 L361.53,139.07 L361.58,138.47 L361.63,137.88 L361.68,137.28 L361.73,136.69 L361.78,136.09 L361.82,135.50 L361.87,134.90 L361.92,134.31 L361.97,133.71 L362.02,133.12 L362.06,132.52 L362.11,131.92 L362.16,131.33 L362.20,130.73 L362.25,130.14 L362.30,129.54 L362.34,128.95 L362.39,128.35 L362.43,127.76 L362.48,127.16 L362.52,126.57 L362.56,125.97 L362.61,125.37 L362.65,124.78 L362.69,124.18 L362.74,123.59 L362.78,122.99 L362.82,122.39 L362.87,121.80 L362.91,121.20 L362.95,120.61 L362.99,120.01 L363.03,119.41 L363.08,118.82 L363.12,118.22 L363.16,117.63 L363.20,117.03 L363.24,116.43 L363.28,115.84 L363.32,115.24 L363.36,114.64 L363.40,114.05 L363.44,113.45 L363.48,112.86 L363.52,112.26 L363.56,111.66 L363.60,111.07 L363.64,110.47 L363.68,109.87 L363.72,109.28 L363.76,108.68 L363.80,108.08 L363.84,107.49 L363.88,106.89 L363.92,106.29 L363.96,105.70 L364.00,105.10 L364.04,104.50 L364.07,103.91 L364.11,103.31 L364.15,102.71 L364.19,102.12 L364.23,101.52 L364.27,100.92 L364.31,100.33 L364.35,99.73 L364.38,99.13 L364.42,98.54 L364.46,97.94 L364.50,97.34 L364.54,96.75 L364.58,96.15 L364.62,95.55 L364.66,94.96 L364.69,94.36 L364.73,93.76 L364.77,93.17 L364.81,92.57 L364.85,91.97 L364.89,91.38 L364.93,90.78 L364.97,90.18 L365.01,89.59 L365.04,88.99 L365.08,88.40 L365.12,87.80 L365.16,87.20 L365.20,86.61 L365.24,86.01 L365.28,85.41 L365.32,84.82 L365.36,84.22 L365.40,83.62 L365.44,83.03 L365.48,82.43 L365.52,81.84 L365.56,81.24 L365.60,80.64 L365.64,80.05 L365.68,79.45 L365.72,78.86 L365.76,78.26 L365.81,77.66 L365.85,77.07 L365.89,76.47 L365.93,75.88 L365.97,75.28 L366.01,74.68 L366.06,74.09 L366.10,73.49 L366.14,72.90 L366.18,72.30 L366.23,71.71 L366.27,71.11 L366.31,70.52 L366.36,69.92 L366.40,69.33 L366.44,68.73 L366.49,68.14 L366.53,67.54 L366.58,66.95 L366.62,66.35 L366.66,65.76 L366.71,65.16 L366.76,64.57 L366.80,63.97 L366.85,63.38 L366.89,62.78 L366.94,62.19 L366.99,61.59 L367.03,61.00 L367.08,60.41 L367.13,59.81 L367.18,59.22 L367.22,58.62 L367.27,58.03 L367.32,57.44 L367.37,56.84 L367.42,56.25 L367.47,55.65 L367.52,55.06 L367.57,54.47 L367.62,53.87 L367.67,53.28 L367.72,52.69 L367.77,52.09 L367.82,51.50 L367.87,50.91 L367.93,50.32 L367.98,49.72 L368.03,49.13 L368.09,48.54 L368.14,47.95 L368.19,47.35 L368.25,46.76 L368.30,46.17 L368.36,45.58 L368.41,44.99 L368.47,44.39 L368.53,43.80 L368.58,43.21 L368.64,42.62 L368.70,42.03 L368.76,41.44 L368.82,40.84 L368.88,40.25 L368.94,39.65 L369.01,39.05 L369.08,38.45 L369.15,37.85 L369.22,37.24 L369.30,36.64 L369.38,36.02 L369.47,35.40 L369.56,34.78 L369.65,34.16 L369.75,33.52 L369.86,32.89 L369.97,32.24 L370.08,31.59 L370.20,30.94 L370.33,30.27 L370.47,29.62 L370.61,28.99 L370.77,28.44 L370.93,27.97 L371.11,27.62 L371.31,27.42 L371.52,27.40 L371.74,27.57 L371.98,27.89 L372.21,28.33 L372.45,28.84 L372.68,29.40 L372.89,29.96 L373.09,30.53 L373.28,31.11 L373.45,31.68 L373.62,32.26 L373.77,32.85 L373.91,33.43 L374.04,34.02 L374.16,34.62 L374.28,35.21 L374.39,35.81 L374.48,36.40 L374.58,37.00 L374.66,37.60 L374.74,38.21 L374.82,38.81 L374.89,39.41 L374.96,40.02 L375.02,40.62 L375.09,41.23 L375.15,41.83 L375.21,42.44 L375.27,43.04 L375.33,43.64 L375.38,44.25 L375.45,44.85 L375.51,45.45 L375.57,46.05 L375.63,46.65 L375.69,47.25 L375.75,47.85 L375.81,48.44 L375.87,49.04 L375.94,49.64 L376.00,50.23 L376.06,50.83 L376.13,51.42 L376.19,52.02 L376.26,52.61 L376.32,53.20 L376.39,53.79 L376.45,54.39 L376.52,54.98 L376.58,55.57 L376.65,56.16 L376.72,56.75 L376.78,57.34 L376.85,57.93 L376.92,58.52 L376.99,59.11 L377.06,59.70 L377.13,60.29 L377.20,60.88 L377.27,61.47 L377.34,62.06 L377.41,62.65 L377.49,63.24 L377.56,63.82 L377.63,64.41 L377.71,65.00 L377.78,65.59 L377.86,66.18 L377.93,66.77 L378.01,67.36 L378.09,67.95 L378.16,68.54 L378.24,69.12 L378.32,69.71 L378.40,70.30 L378.48,70.89 L378.56,71.48 L378.64,72.07 L378.72,72.66 L378.80,73.26 L378.89,73.85 L378.97,74.44 L379.05,75.03 L379.14,75.62 L379.23,76.22 L379.31,76.81 L379.40,77.40 L379.49,77.99 L379.58,78.59 L379.68,79.18 L379.78,79.77 L379.88,80.36 L379.99,80.95 L380.11,81.54 L380.24,82.12 L380.37,82.70 L380.51,83.28 L380.66,83.86 L380.82,84.43 L380.99,85.00 L381.17,85.57 L381.36,86.13 L381.57,86.69 L381.78,87.24 L382.02,87.79 L382.26,88.33 L382.53,88.87 L382.80,89.40 L383.09,89.93 L383.39,90.45 L383.70,90.98 L384.01,91.50 L384.33,92.01 L384.65,92.53 L384.96,93.05 L385.28,93.57 L385.59,94.09 L385.89,94.61 L386.18,95.14 L386.46,95.67 L386.74,96.20 L387.00,96.74 L387.26,97.28 L387.50,97.82 L387.74,98.37 L387.97,98.92 L388.19,99.47 L388.41,100.02 L388.61,100.58 L388.81,101.14 L389.01,101.70 L389.19,102.26 L389.37,102.83 L389.55,103.39 L389.71,103.96 L389.87,104.53 L390.03,105.11 L390.18,105.68 L390.32,106.26 L390.46,106.84 L390.59,107.42 L390.72,108.00 L390.85,108.58 L390.97,109.17 L391.09,109.75 L391.20,110.34 L391.31,110.93 L391.42,111.51 L391.52,112.10 L391.62,112.69 L391.72,113.28 L391.81,113.88 L391.91,114.47 L392.00,115.06 L392.09,115.65 L392.18,116.25 L392.26,116.84 L392.35,117.43 L392.43,118.02 L392.52,118.62 L392.60,119.21 L392.69,119.80 L392.77,120.40 L392.85,120.99 L392.93,121.58 L393.01,122.17 L393.10,122.77 L393.18,123.36 L393.26,123.95 L393.33,124.54 L393.41,125.13 L393.49,125.73 L393.57,126.32 L393.65,126.91 L393.72,127.50 L393.80,128.09 L393.87,128.68 L393.95,129.28 L394.02,129.87 L394.10,130.46 L394.17,131.05 L394.24,131.64 L394.31,132.24 L394.38,132.83 L394.45,133.42 L394.52,134.01 L394.59,134.60 L394.66,135.20 L394.73,135.79 L394.79,136.38 L394.86,136.97 L394.93,137.56 L394.99,138.16 L395.05,138.75 L395.12,139.34 L395.18,139.94 L395.24,140.53 L395.30,141.12 L395.36,141.72 L395.42,142.31 L395.48,142.90 L395.53,143.50 L395.59,144.09 L395.65,144.69 L395.70,145.28 L395.76,145.88 L395.81,146.47 L395.86,147.06 L395.92,147.66 L395.97,148.26 L396.02,148.85 L396.07,149.45 L396.12,150.04 L396.17,150.64 L396.22,151.23 L396.27,151.83 L396.32,152.43 L396.37,153.02 L396.41,153.62 L396.46,154.21 L396.51,154.81 L396.55,155.41 L396.60,156.00 L396.65,156.60 L396.69,157.20 L396.74,157.79 L396.78,158.39 L396.83,158.99 L396.88,159.58 L396.92,160.18 L396.97,160.78 L397.01,161.37 L397.06,161.97 L397.10,162.57 L397.15,163.16 L397.19,163.76 L397.24,164.36 L397.28,164.95 L397.33,165.55 L397.37,166.15 L397.42,166.74 L397.47,167.34 L397.51,167.94 L397.56,168.53 L397.61,169.13 L397.65,169.73 L397.70,170.32 L397.75,170.92 L397.80,171.52 L397.85,172.11 L397.90,172.71 L397.95,173.31 L398.00,173.90 L398.05,174.50 L398.10,175.09 L398.15,175.69 L398.20,176.28 L398.26,176.88 L398.31,177.48 L398.36,178.07 L398.42,178.67 L398.47,179.26 L398.53,179.86 L398.59,180.45 L398.64,181.04 L398.70,181.64 L398.76,182.23 L398.82,182.83 L398.89,183.42 L398.95,184.01 L399.01,184.61 L399.07,185.20 L399.14,185.79 L399.21,186.39 L399.27,186.98 L399.34,187.57 L399.41,188.17 L399.48,188.76 L399.55,189.35 L399.63,189.94 L399.70,190.53 L399.77,191.12 L399.85,191.71 L399.93,192.30 L400.01,192.90 L400.09,193.49 L400.17,194.08 L400.25,194.66 L400.34,195.25 L400.42,195.84 L400.51,196.43 L400.60,197.02 L400.69,197.61 L400.78,198.20 L400.87,198.78 L400.97,199.37 L401.06,199.96 L401.16,200.55 L401.26,201.13 L401.36,201.72 L401.46,202.30 L401.57,202.89 L401.67,203.47 L401.78,204.06 L401.89,204.64 L402.00,205.23 L402.12,205.81 L402.23,206.39 L402.35,206.98 L402.47,207.56 L402.59,208.14 L402.72,208.72 L402.84,209.30 L402.97,209.88 L403.11,210.47 L403.24,211.05 L403.38,211.63 L403.53,212.21 L403.67,212.79 L403.82,213.37 L403.98,213.95 L404.14,214.53 L404.30,215.12 L404.47,215.70 L404.65,216.28 L404.83,216.86 L405.01,217.44 L405.20,218.03 L405.40,218.61 L405.60,219.19 L405.81,219.77 L406.03,220.35 L406.27,220.91 L406.52,221.46 L406.79,222.00 L407.08,222.51 L407.40,223.00 L407.74,223.46 L408.11,223.89 L408.51,224.29 L408.94,224.65 L409.41,224.97 L409.91,225.25 L410.45,225.49 L411.01,225.69 L411.59,225.87 L412.19,226.01 L412.80,226.13 L413.43,226.21 L414.06,226.28 L414.70,226.33 L415.34,226.35 L415.97,226.36 L416.60,226.36 L417.22,226.35 L417.82,226.32 L418.40,226.30 L418.96,226.26 L419.49,226.23 L420.00,226.19 L555.40,226.10" fill="none" stroke="#fff" stroke-opacity="0.7" stroke-width="2.6"/>
<path d="M341.62,219.67 L342.48,219.53 L343.34,219.37 L344.18,219.19 L345.01,219.00 L345.83,218.79 L346.64,218.56 L347.44,218.31 L348.23,218.05 L349.01,217.77 L349.78,217.47 L350.54,217.16 L351.29,216.83 L352.03,216.49 L352.76,216.13 L353.48,215.76 L354.19,215.37 L354.89,214.97 L355.58,214.55 L356.26,214.13 L356.93,213.68 L357.59,213.23 L358.24,212.76 L358.88,212.28 L359.52,211.78 L360.14,211.28 L360.76,210.76 L361.36,210.23 L361.96,209.69 L362.55,209.14 L363.13,208.58 L363.70,208.01 L364.26,207.43 L364.81,206.84 L365.35,206.23 L365.89,205.62 L366.42,205.00 L366.93,204.38 L367.45,203.74 L367.95,203.09 L368.44,202.44 L368.93,201.78 L369.40,201.11 L369.87,200.44 L370.34,199.76 L370.79,199.07 L371.24,198.38 L371.68,197.68 L372.12,196.98 L372.55,196.27 L372.98,195.57 L373.41,194.86 L373.84,194.16 L374.27,193.45 L374.70,192.75 L375.14,192.05 L375.58,191.36 L376.03,190.68 L376.49,190.00 L376.95,189.33 L377.43,188.66 L377.91,188.01 L378.41,187.37 L378.92,186.74 L379.45,186.13 L379.98,185.53 L380.53,184.94 L381.10,184.36 L381.67,183.80 L382.26,183.26 L382.86,182.73 L383.48,182.22 L384.10,181.72 L384.74,181.24 L385.39,180.77 L386.05,180.33 L386.73,179.90 L387.42,179.49 L388.12,179.10 L388.83,178.73 L389.55,178.37 L390.28,178.04 L391.03,177.72 L391.78,177.42 L392.54,177.14 L393.31,176.87 L394.09,176.62 L394.87,176.39 L395.66,176.17 L396.46,175.97 L397.27,175.79 L398.08,175.62 L398.89,175.47 L399.71,175.33 L400.53,175.21 L401.36,175.10 L402.19,175.01 L403.02,174.93 L403.85,174.86 L404.68,174.81 L405.52,174.77 L406.35,174.74 L407.18,174.73 L408.02,174.73 L408.85,174.74 L409.68,174.76 L410.50,174.79 L411.33,174.84 L412.15,174.90 L412.96,174.97 L413.78,175.05 L414.59,175.15 L415.40,175.26 L416.20,175.38 L417.00,175.52 L417.79,175.67 L418.58,175.83 L419.36,176.01 L420.14,176.21 L420.92,176.41 L421.69,176.64 L422.45,176.87 L423.21,177.13 L423.96,177.40 L424.70,177.68 L425.44,177.98 L426.17,178.30 L426.89,178.64 L427.61,178.99 L428.32,179.35 L429.02,179.74 L429.71,180.13 L430.40,180.55 L431.09,180.97 L431.77,181.41 L432.44,181.85 L433.12,182.31 L433.78,182.78 L434.45,183.25 L435.11,183.74 L435.77,184.23 L436.43,184.72 L437.08,185.22 L437.74,185.73 L438.39,186.24 L439.05,186.75 L439.70,187.26 L440.36,187.77 L441.02,188.28 L441.68,188.79 L442.34,189.30 L443.00,189.80 L443.67,190.31 L444.34,190.80 L445.02,191.29 L445.70,191.78 L446.38,192.25 L447.07,192.72 L447.76,193.18 L448.46,193.63 L449.16,194.07 L449.87,194.50 L450.58,194.91 L451.30,195.31 L452.02,195.70 L452.75,196.07 L453.48,196.42 L454.21,196.76 L454.96,197.08 L455.70,197.38 L456.46,197.67 L457.21,197.93 L457.98,198.17 L458.75,198.39 L459.52,198.58 L460.30,198.76 L461.09,198.91 L461.88,199.04 L462.68,199.15 L463.48,199.24 L464.28,199.31 L465.09,199.37 L465.90,199.42 L466.72,199.45 L467.54,199.47 L468.36,199.48 L469.18,199.48 L470.00,199.47 L470.83,199.46 L471.66,199.44 L472.49,199.41 L473.32,199.39 L474.15,199.36 L474.97,199.32 L475.80,199.29 L476.63,199.27 L477.46,199.24 L478.29,199.22 L479.11,199.21 L479.93,199.20 L480.75,199.20 L481.57,199.21 L482.39,199.23 L483.20,199.26 L484.01,199.30 L484.81,199.36 L485.61,199.44 L486.41,199.53 L487.20,199.64 L487.98,199.77 L488.77,199.92 L489.54,200.09 L490.31,200.27 L491.08,200.47 L491.84,200.69 L492.60,200.93 L493.35,201.18 L494.10,201.45 L494.84,201.74 L495.57,202.04 L496.31,202.36 L497.03,202.69 L497.75,203.03 L498.47,203.39 L499.18,203.77 L499.89,204.16 L500.59,204.56 L501.29,204.97 L501.98,205.40 L502.67,205.83 L503.36,206.28 L504.04,206.73 L504.72,207.20 L505.40,207.67 L506.07,208.14 L506.75,208.62 L507.42,209.10 L508.09,209.59 L508.77,210.07 L509.44,210.56 L510.12,211.04 L510.79,211.52 L511.47,212.00 L512.15,212.47 L512.83,212.94 L513.52,213.40 L514.21,213.85 L514.91,214.29 L515.61,214.72 L516.31,215.14 L517.02,215.56 L517.73,215.96 L518.45,216.35 L519.17,216.74 L519.90,217.11 L520.63,217.48 L521.36,217.83 L522.10,218.18 L522.84,218.52 L523.58,218.84 L524.33,219.16 L525.08,219.47 L525.83,219.77 L526.59,220.06 L527.35,220.35 L528.12,220.62 L528.89,220.88 L529.66,221.14 L530.43,221.39 L531.21,221.63 L531.99,221.86 L532.77,222.08 L533.55,222.29 L534.34,222.49 L535.13,222.69 L535.92,222.87 L536.72,223.05 L537.51,223.22 L538.31,223.39 L539.11,223.54 L539.91,223.68 L540.72,223.82 L541.52,223.95 L542.33,224.07 L543.14,224.19 L543.95,224.29 L544.77,224.39 L545.58,224.48 L546.40,224.56 L547.21,224.64 L548.03,224.70 L548.85,224.76 L549.67,224.81 L550.49,224.86 L551.31,224.90 L552.13,224.93 L552.96,224.95 L553.78,224.96 L554.60,224.97 L555.43,224.97" fill="none" stroke="#1e1e1e" stroke-width="1.1"/>
<path d="M341.39,210.61 L341.92,209.93 L342.46,209.26 L342.99,208.61 L343.52,207.97 L344.05,207.33 L344.58,206.71 L345.11,206.09 L345.64,205.49 L346.17,204.89 L346.70,204.29 L347.23,203.71 L347.75,203.12 L348.28,202.55 L348.81,201.97 L349.33,201.40 L349.86,200.83 L350.38,200.26 L350.91,199.69 L351.43,199.12 L351.96,198.55 L352.48,197.98 L353.00,197.40 L353.52,196.82 L354.05,196.24 L354.57,195.65 L355.09,195.05 L355.61,194.45 L356.13,193.84 L356.65,193.23 L357.18,192.60 L357.70,191.97 L358.22,191.33 L358.74,190.69 L359.26,190.04 L359.79,189.39 L360.32,188.74 L360.85,188.08 L361.38,187.43 L361.91,186.77 L362.45,186.12 L362.99,185.47 L363.53,184.83 L364.08,184.19 L364.63,183.56 L365.18,182.93 L365.74,182.31 L366.31,181.70 L366.88,181.10 L367.45,180.51 L368.03,179.94 L368.62,179.37 L369.21,178.82 L369.81,178.29 L370.42,177.77 L371.03,177.27 L371.66,176.79 L372.28,176.32 L372.92,175.88 L373.57,175.46 L374.22,175.06 L374.89,174.68 L375.56,174.33 L376.24,174.00 L376.93,173.70 L377.64,173.43 L378.35,173.19 L379.07,172.97 L379.81,172.78 L380.55,172.63 L381.30,172.50 L382.06,172.40 L382.83,172.32 L383.60,172.28 L384.37,172.26 L385.15,172.26 L385.94,172.29 L386.72,172.35 L387.51,172.43 L388.30,172.53 L389.09,172.66 L389.87,172.81 L390.66,172.98 L391.44,173.18 L392.22,173.40 L392.99,173.64 L393.76,173.90 L394.53,174.18 L395.28,174.47 L396.03,174.79 L396.77,175.13 L397.50,175.49 L398.22,175.86 L398.93,176.25 L399.64,176.64 L400.34,177.05 L401.04,177.47 L401.74,177.89 L402.43,178.31 L403.12,178.74 L403.81,179.17 L404.50,179.59 L405.20,180.01 L405.89,180.42 L406.59,180.84 L407.28,181.24 L407.98,181.65 L408.68,182.05 L409.39,182.45 L410.09,182.84 L410.79,183.23 L411.50,183.61 L412.21,183.99 L412.92,184.37 L413.63,184.74 L414.34,185.11 L415.05,185.48 L415.77,185.84 L416.48,186.19 L417.20,186.55 L417.92,186.90 L418.64,187.24 L419.37,187.58 L420.09,187.92 L420.82,188.25 L421.55,188.58 L422.28,188.91 L423.01,189.23 L423.74,189.55 L424.48,189.86 L425.22,190.17 L425.95,190.47 L426.70,190.77 L427.44,191.07 L428.18,191.36 L428.93,191.65 L429.68,191.93 L430.43,192.22 L431.18,192.49 L431.93,192.77 L432.68,193.04 L433.44,193.30 L434.20,193.57 L434.96,193.83 L435.72,194.08 L436.48,194.34 L437.24,194.59 L438.00,194.84 L438.77,195.09 L439.53,195.33 L440.30,195.57 L441.06,195.81 L441.83,196.05 L442.60,196.28 L443.37,196.52 L444.14,196.75 L444.91,196.98 L445.68,197.21 L446.45,197.44 L447.23,197.66 L448.00,197.89 L448.77,198.11 L449.54,198.33 L450.32,198.55 L451.09,198.77 L451.87,198.99 L452.64,199.21 L453.41,199.43 L454.19,199.65 L454.96,199.87 L455.73,200.09 L456.51,200.30 L457.28,200.52 L458.05,200.74 L458.82,200.96 L459.59,201.18 L460.37,201.40 L461.14,201.62 L461.91,201.84 L462.68,202.06 L463.45,202.27 L464.22,202.49 L464.99,202.71 L465.76,202.92 L466.53,203.13 L467.30,203.34 L468.08,203.55 L468.85,203.75 L469.62,203.95 L470.40,204.15 L471.18,204.35 L471.95,204.54 L472.73,204.72 L473.51,204.90 L474.30,205.08 L475.08,205.25 L475.86,205.42 L476.65,205.58 L477.44,205.73 L478.23,205.88 L479.03,206.02 L479.82,206.16 L480.62,206.29 L481.41,206.42 L482.21,206.55 L483.01,206.69 L483.80,206.82 L484.60,206.95 L485.39,207.09 L486.19,207.24 L486.98,207.39 L487.76,207.55 L488.55,207.72 L489.33,207.89 L490.11,208.08 L490.89,208.28 L491.66,208.49 L492.42,208.72 L493.19,208.95 L493.95,209.19 L494.71,209.45 L495.46,209.71 L496.21,209.98 L496.96,210.26 L497.71,210.55 L498.45,210.84 L499.20,211.14 L499.94,211.44 L500.68,211.76 L501.41,212.07 L502.15,212.39 L502.88,212.72 L503.62,213.04 L504.35,213.37 L505.08,213.71 L505.81,214.04 L506.54,214.37 L507.27,214.71 L508.00,215.05 L508.73,215.38 L509.47,215.72 L510.20,216.05 L510.93,216.38 L511.66,216.71 L512.40,217.04 L513.13,217.36 L513.87,217.68 L514.60,218.00 L515.34,218.30 L516.08,218.61 L516.83,218.91 L517.57,219.20 L518.32,219.48 L519.07,219.76 L519.82,220.03 L520.57,220.29 L521.33,220.54 L522.09,220.78 L522.85,221.01 L523.62,221.24 L524.39,221.45 L525.16,221.66 L525.93,221.86 L526.71,222.06 L527.48,222.24 L528.26,222.42 L529.04,222.59 L529.83,222.75 L530.61,222.91 L531.40,223.06 L532.19,223.20 L532.98,223.34 L533.77,223.47 L534.56,223.59 L535.35,223.70 L536.15,223.81 L536.95,223.92 L537.74,224.02 L538.54,224.11 L539.34,224.20 L540.14,224.28 L540.94,224.35 L541.75,224.42 L542.55,224.49 L543.35,224.55 L544.15,224.60 L544.96,224.66 L545.76,224.70 L546.57,224.74 L547.37,224.78 L548.18,224.82 L548.98,224.84 L549.79,224.87 L550.59,224.89 L551.40,224.91 L552.20,224.93 L553.00,224.94 L553.81,224.95 L554.61,224.95 L555.41,224.95" fill="none" stroke="#1e1e1e" stroke-width="1.1" stroke-dasharray="1.6 0.8"/>
<path d="M341.91,183.45 L342.27,182.83 L342.65,182.22 L343.04,181.61 L343.46,181.00 L343.90,180.40 L344.35,179.80 L344.82,179.21 L345.31,178.63 L345.82,178.04 L346.35,177.47 L346.89,176.90 L347.44,176.34 L348.01,175.79 L348.60,175.25 L349.19,174.71 L349.80,174.19 L350.43,173.67 L351.07,173.17 L351.71,172.68 L352.37,172.20 L353.04,171.73 L353.72,171.27 L354.41,170.82 L355.11,170.39 L355.82,169.97 L356.53,169.57 L357.26,169.18 L357.99,168.81 L358.72,168.45 L359.46,168.11 L360.21,167.79 L360.96,167.48 L361.72,167.19 L362.48,166.92 L363.24,166.67 L364.00,166.43 L364.77,166.22 L365.54,166.03 L366.31,165.86 L367.08,165.70 L367.85,165.57 L368.62,165.47 L369.39,165.38 L370.16,165.32 L370.92,165.28 L371.68,165.27 L372.44,165.28 L373.20,165.31 L373.95,165.38 L374.69,165.46 L375.43,165.58 L376.17,165.72 L376.90,165.89 L377.62,166.08 L378.33,166.31 L379.04,166.56 L379.73,166.84 L380.42,167.15 L381.11,167.48 L381.78,167.84 L382.45,168.22 L383.11,168.62 L383.76,169.05 L384.41,169.49 L385.05,169.95 L385.69,170.43 L386.32,170.92 L386.94,171.43 L387.56,171.96 L388.17,172.49 L388.77,173.04 L389.37,173.60 L389.97,174.16 L390.56,174.74 L391.14,175.32 L391.73,175.90 L392.30,176.49 L392.87,177.09 L393.44,177.68 L394.01,178.28 L394.57,178.87 L395.12,179.47 L395.68,180.06 L396.23,180.65 L396.79,181.23 L397.34,181.80 L397.90,182.36 L398.47,182.92 L399.03,183.46 L399.61,183.99 L400.19,184.50 L400.78,184.99 L401.38,185.47 L401.99,185.93 L402.62,186.36 L403.25,186.78 L403.90,187.17 L404.57,187.53 L405.25,187.87 L405.95,188.18 L406.66,188.48 L407.38,188.75 L408.11,189.01 L408.86,189.26 L409.60,189.49 L410.36,189.72 L411.12,189.94 L411.88,190.16 L412.65,190.37 L413.41,190.59 L414.18,190.81 L414.94,191.03 L415.70,191.27 L416.45,191.51 L417.21,191.76 L417.95,192.03 L418.70,192.29 L419.44,192.57 L420.18,192.85 L420.92,193.14 L421.65,193.44 L422.38,193.75 L423.10,194.06 L423.83,194.38 L424.55,194.70 L425.27,195.03 L425.98,195.37 L426.69,195.71 L427.41,196.06 L428.11,196.41 L428.82,196.77 L429.52,197.13 L430.23,197.49 L430.93,197.87 L431.63,198.24 L432.32,198.62 L433.02,199.00 L433.71,199.39 L434.40,199.78 L435.09,200.17 L435.78,200.56 L436.47,200.96 L437.16,201.36 L437.85,201.76 L438.53,202.16 L439.22,202.57 L439.90,202.97 L440.58,203.38 L441.27,203.79 L441.95,204.19 L442.63,204.60 L443.31,205.01 L443.99,205.42 L444.67,205.83 L445.35,206.24 L446.03,206.65 L446.72,207.06 L447.40,207.46 L448.08,207.87 L448.76,208.27 L449.44,208.67 L450.13,209.07 L450.81,209.47 L451.49,209.87 L452.18,210.26 L452.87,210.65 L453.55,211.04 L454.24,211.42 L454.93,211.80 L455.62,212.18 L456.32,212.55 L457.01,212.92 L457.70,213.28 L458.40,213.64 L459.10,214.00 L459.80,214.35 L460.50,214.69 L461.21,215.03 L461.91,215.36 L462.62,215.69 L463.33,216.01 L464.05,216.32 L464.76,216.63 L465.48,216.93 L466.20,217.23 L466.93,217.51 L467.65,217.79 L468.38,218.07 L469.12,218.33 L469.85,218.59 L470.59,218.83 L471.33,219.07 L472.08,219.30 L472.82,219.53 L473.58,219.74 L474.33,219.95 L475.08,220.15 L475.84,220.34 L476.60,220.53 L477.37,220.70 L478.13,220.88 L478.90,221.04 L479.67,221.20 L480.45,221.35 L481.22,221.49 L482.00,221.63 L482.78,221.77 L483.56,221.89 L484.34,222.02 L485.12,222.13 L485.90,222.24 L486.69,222.35 L487.48,222.45 L488.27,222.55 L489.06,222.64 L489.85,222.72 L490.64,222.81 L491.43,222.88 L492.22,222.96 L493.02,223.03 L493.81,223.09 L494.61,223.16 L495.40,223.22 L496.20,223.27 L497.00,223.33 L497.79,223.38 L498.59,223.42 L499.39,223.47 L500.18,223.51 L500.98,223.55 L501.77,223.59 L502.57,223.62 L503.36,223.65 L504.16,223.69 L504.95,223.72 L505.75,223.74 L506.54,223.77 L507.33,223.80 L508.12,223.82 L508.91,223.85 L509.70,223.87 L510.49,223.89 L511.28,223.91 L512.07,223.93 L512.86,223.95 L513.65,223.97 L514.43,223.98 L515.22,224.00 L516.01,224.01 L516.79,224.03 L517.58,224.04 L518.36,224.06 L519.15,224.07 L519.93,224.08 L520.72,224.09 L521.50,224.11 L522.29,224.12 L523.07,224.13 L523.86,224.14 L524.64,224.15 L525.42,224.16 L526.21,224.17 L526.99,224.18 L527.78,224.19 L528.56,224.21 L529.34,224.22 L530.13,224.23 L530.91,224.24 L531.70,224.25 L532.48,224.27 L533.27,224.28 L534.05,224.29 L534.84,224.31 L535.62,224.32 L536.41,224.34 L537.19,224.35 L537.98,224.37 L538.77,224.39 L539.55,224.41 L540.34,224.43 L541.13,224.45 L541.92,224.47 L542.71,224.49 L543.50,224.52 L544.29,224.54 L545.08,224.57 L545.87,224.60 L546.66,224.63 L547.45,224.66 L548.25,224.69 L549.04,224.72 L549.83,224.76 L550.63,224.80 L551.43,224.83 L552.22,224.87 L553.02,224.92 L553.82,224.96 L554.62,225.01 L555.42,225.05" fill="none" stroke="#1e1e1e" stroke-width="1.1" stroke-dasharray="3.4 1.0"/>
<path d="M341.80,225.41 L342.45,225.22 L343.03,224.98 L343.56,224.69 L344.05,224.36 L344.49,223.98 L344.88,223.57 L345.25,223.13 L345.57,222.65 L345.87,222.15 L346.14,221.63 L346.40,221.09 L346.63,220.53 L346.85,219.96 L347.06,219.39 L347.27,218.81 L347.47,218.24 L347.67,217.66 L347.87,217.09 L348.07,216.51 L348.27,215.94 L348.47,215.37 L348.67,214.80 L348.87,214.23 L349.06,213.67 L349.25,213.10 L349.44,212.53 L349.63,211.96 L349.82,211.40 L350.01,210.83 L350.19,210.27 L350.37,209.70 L350.55,209.13 L350.73,208.56 L350.91,208.00 L351.08,207.43 L351.25,206.86 L351.42,206.29 L351.58,205.72 L351.74,205.15 L351.90,204.58 L352.06,204.00 L352.21,203.43 L352.36,202.85 L352.51,202.28 L352.65,201.70 L352.80,201.12 L352.94,200.54 L353.07,199.96 L353.21,199.38 L353.34,198.80 L353.47,198.22 L353.60,197.63 L353.73,197.05 L353.85,196.47 L353.97,195.88 L354.09,195.30 L354.21,194.71 L354.33,194.12 L354.44,193.54 L354.56,192.95 L354.67,192.36 L354.78,191.77 L354.89,191.18 L355.00,190.60 L355.11,190.01 L355.21,189.42 L355.32,188.83 L355.42,188.24 L355.52,187.65 L355.62,187.06 L355.73,186.47 L355.83,185.88 L355.93,185.29 L356.02,184.70 L356.12,184.11 L356.22,183.52 L356.31,182.93 L356.41,182.34 L356.50,181.75 L356.60,181.16 L356.69,180.57 L356.78,179.98 L356.87,179.39 L356.96,178.80 L357.05,178.20 L357.14,177.61 L357.23,177.02 L357.32,176.43 L357.40,175.84 L357.49,175.25 L357.57,174.66 L357.66,174.07 L357.74,173.48 L357.82,172.88 L357.91,172.29 L357.99,171.70 L358.07,171.11 L358.15,170.52 L358.23,169.93 L358.31,169.33 L358.38,168.74 L358.46,168.15 L358.54,167.56 L358.61,166.96 L358.69,166.37 L358.76,165.78 L358.84,165.19 L358.91,164.60 L358.98,164.00 L359.05,163.41 L359.12,162.82 L359.20,162.23 L359.27,161.63 L359.33,161.04 L359.40,160.45 L359.47,159.85 L359.54,159.26 L359.61,158.67 L359.67,158.07 L359.74,157.48 L359.80,156.89 L359.87,156.29 L359.93,155.70 L360.00,155.11 L360.06,154.51 L360.12,153.92 L360.18,153.33 L360.24,152.73 L360.31,152.14 L360.37,151.55 L360.43,150.95 L360.49,150.36 L360.54,149.76 L360.60,149.17 L360.66,148.58 L360.72,147.98 L360.77,147.39 L360.83,146.79 L360.89,146.20 L360.94,145.61 L361.00,145.01 L361.05,144.42 L361.11,143.82 L361.16,143.23 L361.21,142.63 L361.27,142.04 L361.32,141.44 L361.37,140.85 L361.42,140.26 L361.48,139.66 L361.53,139.07 L361.58,138.47 L361.63,137.88 L361.68,137.28 L361.73,136.69 L361.78,136.09 L361.82,135.50 L361.87,134.90 L361.92,134.31 L361.97,133.71 L362.02,133.12 L362.06,132.52 L362.11,131.92 L362.16,131.33 L362.20,130.73 L362.25,130.14 L362.30,129.54 L362.34,128.95 L362.39,128.35 L362.43,127.76 L362.48,127.16 L362.52,126.57 L362.56,125.97 L362.61,125.37 L362.65,124.78 L362.69,124.18 L362.74,123.59 L362.78,122.99 L362.82,122.39 L362.87,121.80 L362.91,121.20 L362.95,120.61 L362.99,120.01 L363.03,119.41 L363.08,118.82 L363.12,118.22 L363.16,117.63 L363.20,117.03 L363.24,116.43 L363.28,115.84 L363.32,115.24 L363.36,114.64 L363.40,114.05 L363.44,113.45 L363.48,112.86 L363.52,112.26 L363.56,111.66 L363.60,111.07 L363.64,110.47 L363.68,109.87 L363.72,109.28 L363.76,108.68 L363.80,108.08 L363.84,107.49 L363.88,106.89 L363.92,106.29 L363.96,105.70 L364.00,105.10 L364.04,104.50 L364.07,103.91 L364.11,103.31 L364.15,102.71 L364.19,102.12 L364.23,101.52 L364.27,100.92 L364.31,100.33 L364.35,99.73 L364.38,99.13 L364.42,98.54 L364.46,97.94 L364.50,97.34 L364.54,96.75 L364.58,96.15 L364.62,95.55 L364.66,94.96 L364.69,94.36 L364.73,93.76 L364.77,93.17 L364.81,92.57 L364.85,91.97 L364.89,91.38 L364.93,90.78 L364.97,90.18 L365.01,89.59 L365.04,88.99 L365.08,88.40 L365.12,87.80 L365.16,87.20 L365.20,86.61 L365.24,86.01 L365.28,85.41 L365.32,84.82 L365.36,84.22 L365.40,83.62 L365.44,83.03 L365.48,82.43 L365.52,81.84 L365.56,81.24 L365.60,80.64 L365.64,80.05 L365.68,79.45 L365.72,78.86 L365.76,78.26 L365.81,77.66 L365.85,77.07 L365.89,76.47 L365.93,75.88 L365.97,75.28 L366.01,74.68 L366.06,74.09 L366.10,73.49 L366.14,72.90 L366.18,72.30 L366.23,71.71 L366.27,71.11 L366.31,70.52 L366.36,69.92 L366.40,69.33 L366.44,68.73 L366.49,68.14 L366.53,67.54 L366.58,66.95 L366.62,66.35 L366.66,65.76 L366.71,65.16 L366.76,64.57 L366.80,63.97 L366.85,63.38 L366.89,62.78 L366.94,62.19 L366.99,61.59 L367.03,61.00 L367.08,60.41 L367.13,59.81 L367.18,59.22 L367.22,58.62 L367.27,58.03 L367.32,57.44 L367.37,56.84 L367.42,56.25 L367.47,55.65 L367.52,55.06 L367.57,54.47 L367.62,53.87 L367.67,53.28 L367.72,52.69 L367.77,52.09 L367.82,51.50 L367.87,50.91 L367.93,50.32 L367.98,49.72 L368.03,49.13 L368.09,48.54 L368.14,47.95 L368.19,47.35 L368.25,46.76 L368.30,46.17 L368.36,45.58 L368.41,44.99 L368.47,44.39 L368.53,43.80 L368.58,43.21 L368.64,42.62 L368.70,42.03 L368.76,41.44 L368.82,40.84 L368.88,40.25 L368.94,39.65 L369.01,39.05 L369.08,38.45 L369.15,37.85 L369.22,37.24 L369.30,36.64 L369.38,36.02 L369.47,35.40 L369.56,34.78 L369.65,34.16 L369.75,33.52 L369.86,32.89 L369.97,32.24 L370.08,31.59 L370.20,30.94 L370.33,30.27 L370.47,29.62 L370.61,28.99 L370.77,28.44 L370.93,27.97 L371.11,27.62 L371.31,27.42 L371.52,27.40 L371.74,27.57 L371.98,27.89 L372.21,28.33 L372.45,28.84 L372.68,29.40 L372.89,29.96 L373.09,30.53 L373.28,31.11 L373.45,31.68 L373.62,32.26 L373.77,32.85 L373.91,33.43 L374.04,34.02 L374.16,34.62 L374.28,35.21 L374.39,35.81 L374.48,36.40 L374.58,37.00 L374.66,37.60 L374.74,38.21 L374.82,38.81 L374.89,39.41 L374.96,40.02 L375.02,40.62 L375.09,41.23 L375.15,41.83 L375.21,42.44 L375.27,43.04 L375.33,43.64 L375.38,44.25 L375.45,44.85 L375.51,45.45 L375.57,46.05 L375.63,46.65 L375.69,47.25 L375.75,47.85 L375.81,48.44 L375.87,49.04 L375.94,49.64 L376.00,50.23 L376.06,50.83 L376.13,51.42 L376.19,52.02 L376.26,52.61 L376.32,53.20 L376.39,53.79 L376.45,54.39 L376.52,54.98 L376.58,55.57 L376.65,56.16 L376.72,56.75 L376.78,57.34 L376.85,57.93 L376.92,58.52 L376.99,59.11 L377.06,59.70 L377.13,60.29 L377.20,60.88 L377.27,61.47 L377.34,62.06 L377.41,62.65 L377.49,63.24 L377.56,63.82 L377.63,64.41 L377.71,65.00 L377.78,65.59 L377.86,66.18 L377.93,66.77 L378.01,67.36 L378.09,67.95 L378.16,68.54 L378.24,69.12 L378.32,69.71 L378.40,70.30 L378.48,70.89 L378.56,71.48 L378.64,72.07 L378.72,72.66 L378.80,73.26 L378.89,73.85 L378.97,74.44 L379.05,75.03 L379.14,75.62 L379.23,76.22 L379.31,76.81 L379.40,77.40 L379.49,77.99 L379.58,78.59 L379.68,79.18 L379.78,79.77 L379.88,80.36 L379.99,80.95 L380.11,81.54 L380.24,82.12 L380.37,82.70 L380.51,83.28 L380.66,83.86 L380.82,84.43 L380.99,85.00 L381.17,85.57 L381.36,86.13 L381.57,86.69 L381.78,87.24 L382.02,87.79 L382.26,88.33 L382.53,88.87 L382.80,89.40 L383.09,89.93 L383.39,90.45 L383.70,90.98 L384.01,91.50 L384.33,92.01 L384.65,92.53 L384.96,93.05 L385.28,93.57 L385.59,94.09 L385.89,94.61 L386.18,95.14 L386.46,95.67 L386.74,96.20 L387.00,96.74 L387.26,97.28 L387.50,97.82 L387.74,98.37 L387.97,98.92 L388.19,99.47 L388.41,100.02 L388.61,100.58 L388.81,101.14 L389.01,101.70 L389.19,102.26 L389.37,102.83 L389.55,103.39 L389.71,103.96 L389.87,104.53 L390.03,105.11 L390.18,105.68 L390.32,106.26 L390.46,106.84 L390.59,107.42 L390.72,108.00 L390.85,108.58 L390.97,109.17 L391.09,109.75 L391.20,110.34 L391.31,110.93 L391.42,111.51 L391.52,112.10 L391.62,112.69 L391.72,113.28 L391.81,113.88 L391.91,114.47 L392.00,115.06 L392.09,115.65 L392.18,116.25 L392.26,116.84 L392.35,117.43 L392.43,118.02 L392.52,118.62 L392.60,119.21 L392.69,119.80 L392.77,120.40 L392.85,120.99 L392.93,121.58 L393.01,122.17 L393.10,122.77 L393.18,123.36 L393.26,123.95 L393.33,124.54 L393.41,125.13 L393.49,125.73 L393.57,126.32 L393.65,126.91 L393.72,127.50 L393.80,128.09 L393.87,128.68 L393.95,129.28 L394.02,129.87 L394.10,130.46 L394.17,131.05 L394.24,131.64 L394.31,132.24 L394.38,132.83 L394.45,133.42 L394.52,134.01 L394.59,134.60 L394.66,135.20 L394.73,135.79 L394.79,136.38 L394.86,136.97 L394.93,137.56 L394.99,138.16 L395.05,138.75 L395.12,139.34 L395.18,139.94 L395.24,140.53 L395.30,141.12 L395.36,141.72 L395.42,142.31 L395.48,142.90 L395.53,143.50 L395.59,144.09 L395.65,144.69 L395.70,145.28 L395.76,145.88 L395.81,146.47 L395.86,147.06 L395.92,147.66 L395.97,148.26 L396.02,148.85 L396.07,149.45 L396.12,150.04 L396.17,150.64 L396.22,151.23 L396.27,151.83 L396.32,152.43 L396.37,153.02 L396.41,153.62 L396.46,154.21 L396.51,154.81 L396.55,155.41 L396.60,156.00 L396.65,156.60 L396.69,157.20 L396.74,157.79 L396.78,158.39 L396.83,158.99 L396.88,159.58 L396.92,160.18 L396.97,160.78 L397.01,161.37 L397.06,161.97 L397.10,162.57 L397.15,163.16 L397.19,163.76 L397.24,164.36 L397.28,164.95 L397.33,165.55 L397.37,166.15 L397.42,166.74 L397.47,167.34 L397.51,167.94 L397.56,168.53 L397.61,169.13 L397.65,169.73 L397.70,170.32 L397.75,170.92 L397.80,171.52 L397.85,172.11 L397.90,172.71 L397.95,173.31 L398.00,173.90 L398.05,174.50 L398.10,175.09 L398.15,175.69 L398.20,176.28 L398.26,176.88 L398.31,177.48 L398.36,178.07 L398.42,178.67 L398.47,179.26 L398.53,179.86 L398.59,180.45 L398.64,181.04 L398.70,181.64 L398.76,182.23 L398.82,182.83 L398.89,183.42 L398.95,184.01 L399.01,184.61 L399.07,185.20 L399.14,185.79 L399.21,186.39 L399.27,186.98 L399.34,187.57 L399.41,188.17 L399.48,188.76 L399.55,189.35 L399.63,189.94 L399.70,190.53 L399.77,191.12 L399.85,191.71 L399.93,192.30 L400.01,192.90 L400.09,193.49 L400.17,194.08 L400.25,194.66 L400.34,195.25 L400.42,195.84 L400.51,196.43 L400.60,197.02 L400.69,197.61 L400.78,198.20 L400.87,198.78 L400.97,199.37 L401.06,199.96 L401.16,200.55 L401.26,201.13 L401.36,201.72 L401.46,202.30 L401.57,202.89 L401.67,203.47 L401.78,204.06 L401.89,204.64 L402.00,205.23 L402.12,205.81 L402.23,206.39 L402.35,206.98 L402.47,207.56 L402.59,208.14 L402.72,208.72 L402.84,209.30 L402.97,209.88 L403.11,210.47 L403.24,211.05 L403.38,211.63 L403.53,212.21 L403.67,212.79 L403.82,213.37 L403.98,213.95 L404.14,214.53 L404.30,215.12 L404.47,215.70 L404.65,216.28 L404.83,216.86 L405.01,217.44 L405.20,218.03 L405.40,218.61 L405.60,219.19 L405.81,219.77 L406.03,220.35 L406.27,220.91 L406.52,221.46 L406.79,222.00 L407.08,222.51 L407.40,223.00 L407.74,223.46 L408.11,223.89 L408.51,224.29 L408.94,224.65 L409.41,224.97 L409.91,225.25 L410.45,225.49 L411.01,225.69 L411.59,225.87 L412.19,226.01 L412.80,226.13 L413.43,226.21 L414.06,226.28 L414.70,226.33 L415.34,226.35 L415.97,226.36 L416.60,226.36 L417.22,226.35 L417.82,226.32 L418.40,226.30 L418.96,226.26 L419.49,226.23 L420.00,226.19 L555.40,226.10" fill="none" stroke="#1e1e1e" stroke-width="1.1" stroke-dasharray="3.4 2.2"/>
<path d="M329.10,226.10H331.0M329.10,154.35H331.0M329.10,82.60H331.0M341.70,235.8V237.70M422.40,235.8V237.70M503.10,235.8V237.70" stroke="#444" stroke-width="0.75" fill="none"/>
<text transform="translate(328.00,228.30) scale(0.8567,1)" font-size="6.51996" fill="#5a5a5a" text-anchor="end" stroke="#5a5a5a" stroke-width="0.1">0.00</text>
<text transform="translate(328.00,156.55) scale(0.8567,1)" font-size="6.51996" fill="#5a5a5a" text-anchor="end" stroke="#5a5a5a" stroke-width="0.1">0.05</text>
<text transform="translate(328.00,84.80) scale(0.8567,1)" font-size="6.51996" fill="#5a5a5a" text-anchor="end" stroke="#5a5a5a" stroke-width="0.1">0.10</text>
<text transform="translate(341.70,243.70) scale(0.8567,1)" font-size="6.51996" fill="#5a5a5a" text-anchor="middle" stroke="#5a5a5a" stroke-width="0.1">0</text>
<text transform="translate(422.40,243.70) scale(0.8567,1)" font-size="6.51996" fill="#5a5a5a" text-anchor="middle" stroke="#5a5a5a" stroke-width="0.1">20</text>
<text transform="translate(503.10,243.70) scale(0.8567,1)" font-size="6.51996" fill="#5a5a5a" text-anchor="middle" stroke="#5a5a5a" stroke-width="0.1">40</text>
<text transform="translate(448.75,252.60) scale(0.9308,1)" font-size="7.546" fill="#000" text-anchor="middle" stroke="#000" stroke-width="0.06">Percent of Parliaments Made Up of Women</text>
<text transform="translate(314.60,126.40) scale(0.9252,1) rotate(-90)" font-size="7.546" fill="#000" text-anchor="middle" stroke="#000" stroke-width="0.06">Density</text>
<text transform="translate(331.00,11.50) scale(0.9285,1)" font-size="9.055" fill="#000" stroke="#000" stroke-width="0.06">Distribution of Share of Women in Parliaments by Income Group</text>
<text transform="translate(577.00,103.90) scale(0.9493,1)" font-size="7.546" fill="#000" stroke="#000" stroke-width="0.06">IncomeGroup</text>
<rect x="577.4" y="108.3" width="10.6" height="11.8" fill="#F2F2F2"/>
<rect x="577.4" y="120.1" width="10.6" height="11.8" fill="#F2F2F2"/>
<rect x="577.4" y="131.9" width="10.6" height="11.8" fill="#F2F2F2"/>
<rect x="577.4" y="143.7" width="10.6" height="11.8" fill="#F2F2F2"/>
<rect x="577.9" y="108.8" width="9.6" height="10.8" fill="none" stroke="#1e1e1e" stroke-width="1.1"/>
<text transform="translate(591.40,116.40) scale(0.9419,1)" font-size="6.037" fill="#000" stroke="#000" stroke-width="0.06">High income</text>
<rect x="577.9" y="120.6" width="9.6" height="10.8" fill="none" stroke="#1e1e1e" stroke-width="1.1" stroke-dasharray="1.6 0.8"/>
<text transform="translate(591.40,128.20) scale(0.9419,1)" font-size="6.037" fill="#000" stroke="#000" stroke-width="0.06">Upper middle income</text>
<rect x="577.9" y="132.4" width="9.6" height="10.8" fill="none" stroke="#1e1e1e" stroke-width="1.1" stroke-dasharray="3.4 1.0"/>
<text transform="translate(591.40,140.00) scale(0.9419,1)" font-size="6.037" fill="#000" stroke="#000" stroke-width="0.06">Lower middle income</text>
<rect x="577.9" y="144.2" width="9.6" height="10.8" fill="none" stroke="#1e1e1e" stroke-width="1.1" stroke-dasharray="3.4 2.2"/>
<text transform="translate(591.40,151.80) scale(0.9419,1)" font-size="6.037" fill="#000" stroke="#000" stroke-width="0.06">Low income</text>
</g></svg></body></html>
